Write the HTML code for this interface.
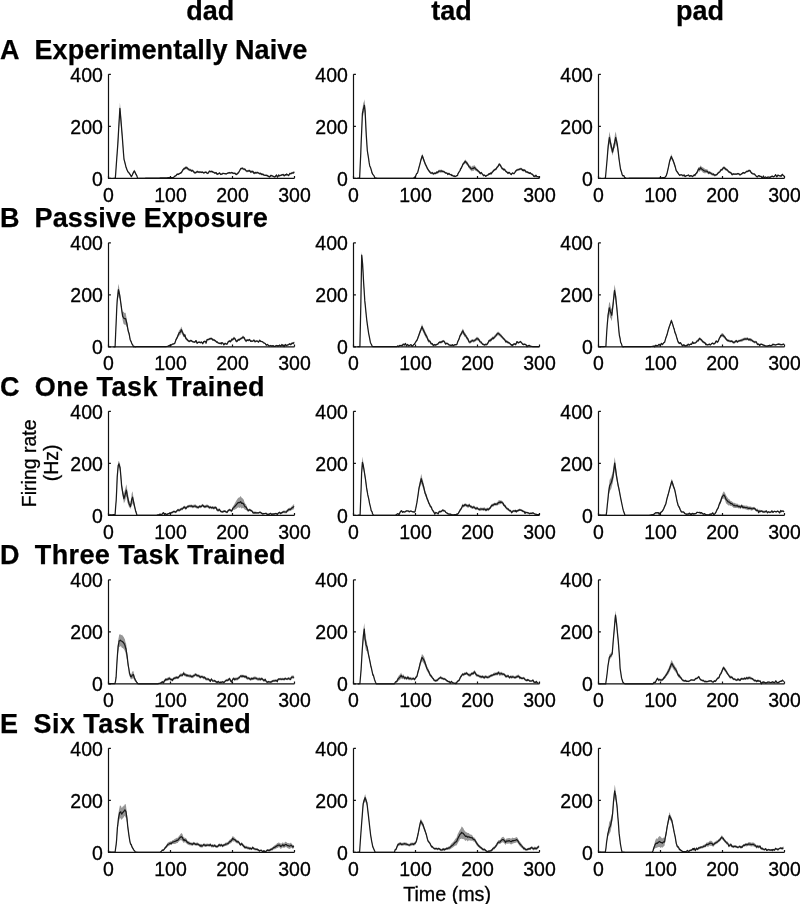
<!DOCTYPE html>
<html><head><meta charset="utf-8"><style>
html,body{margin:0;padding:0;background:#fff;width:800px;height:904px;overflow:hidden}
svg{display:block}
.hb{font-family:"Liberation Sans",Arial,sans-serif;font-weight:bold;font-size:27px;fill:#000;stroke:#000;stroke-width:0.25px}
.t{font-family:"Liberation Sans",Arial,sans-serif;font-size:19.5px;fill:#000;stroke:#000;stroke-width:0.3px}
</style></head><body>
<svg width="800" height="904" viewBox="0 0 800 904">
<rect width="800" height="904" fill="#fff"/>
<text x="210.2" y="19.5" class="hb" text-anchor="middle">dad</text>
<text x="451.4" y="19.5" class="hb" text-anchor="middle">tad</text>
<text x="700.0" y="19.5" class="hb" text-anchor="middle">pad</text>
<text x="0" y="58.55" class="hb">A</text>
<text x="34.55" y="58.55" class="hb" textLength="272.8" lengthAdjust="spacing">Experimentally Naive</text>
<text x="0" y="227.05" class="hb">B</text>
<text x="34.55" y="227.05" class="hb" textLength="233.3" lengthAdjust="spacing">Passive Exposure</text>
<text x="0" y="395.55" class="hb">C</text>
<text x="34.8" y="395.55" class="hb" textLength="229.8" lengthAdjust="spacing">One Task Trained</text>
<text x="0" y="564.05" class="hb">D</text>
<text x="34.8" y="564.05" class="hb" textLength="250.8" lengthAdjust="spacing">Three Task Trained</text>
<text x="0" y="732.55" class="hb">E</text>
<text x="33.6" y="732.55" class="hb" textLength="217.2" lengthAdjust="spacing">Six Task Trained</text>
<polygon fill="#969696" stroke="none" points="113.5,178.3 114.6,178.3 115.3,178.3 115.7,173.0 116.8,156.2 117.8,140.8 119.0,118.0 119.9,102.4 120.2,105.4 121.3,119.4 121.9,128.4 122.4,135.7 123.5,151.5 124.0,157.8 124.6,160.2 125.9,165.5 126.9,168.4 128.0,171.0 129.0,172.1 130.2,173.7 131.4,175.9 132.4,173.8 133.5,171.1 134.3,169.6 134.7,170.2 135.8,173.2 136.9,175.6 137.6,178.3 138.0,178.3 139.1,178.3 140.2,178.3 141.4,178.3 142.5,178.3 143.2,178.3 143.6,178.3 144.7,178.3 145.8,178.2 146.9,178.2 148.1,178.2 149.2,178.2 150.3,178.1 151.4,178.1 152.5,178.1 153.6,178.1 154.8,178.0 155.9,178.0 157.0,178.0 158.1,178.0 159.2,178.0 160.3,177.9 161.4,177.9 162.6,177.9 163.7,177.9 164.8,177.8 165.9,177.8 167.0,177.8 168.1,177.6 169.3,177.6 170.4,177.3 171.5,177.3 172.6,177.4 173.7,177.0 174.0,176.5 174.8,175.7 176.0,175.1 177.1,173.5 178.2,173.6 179.2,172.9 180.4,172.3 181.5,171.5 182.7,169.0 183.8,167.5 184.9,166.9 185.9,166.1 187.1,166.4 188.2,167.7 189.3,168.4 190.5,168.8 190.7,168.7 191.6,170.0 192.7,169.3 193.8,170.8 194.9,171.7 196.0,171.4 196.7,170.8 197.2,170.4 198.3,171.1 199.4,171.0 200.5,171.2 201.6,171.3 202.7,171.3 203.7,172.0 205.0,171.5 206.1,171.3 207.2,172.6 208.3,172.0 209.4,170.4 210.6,171.0 211.7,170.6 212.5,170.8 212.8,171.4 213.9,171.6 215.0,172.2 216.1,171.7 217.2,173.5 217.7,172.9 218.4,173.1 219.5,172.0 220.6,173.5 221.7,173.5 222.8,172.5 223.9,172.8 225.1,172.9 226.2,173.2 226.5,172.9 227.3,172.7 228.4,172.2 229.5,171.8 230.6,172.3 231.8,171.7 232.9,172.3 234.0,172.5 235.1,172.3 236.2,173.8 237.0,173.3 237.3,172.8 238.5,171.7 239.6,170.0 240.7,167.6 241.8,167.5 242.2,167.0 242.9,167.5 244.0,167.9 245.1,168.2 246.3,169.9 247.5,170.0 248.5,169.7 249.6,169.5 250.7,170.7 251.8,170.3 253.0,170.3 254.1,172.0 255.2,171.4 256.2,171.7 257.4,171.6 258.5,172.1 259.7,172.7 260.8,172.5 261.5,173.4 261.9,173.6 263.0,173.4 264.1,174.5 265.2,174.4 266.4,174.4 267.5,174.8 268.5,175.6 269.7,176.0 270.8,174.5 271.9,174.8 273.0,175.4 274.2,175.9 275.3,175.7 276.4,174.2 277.5,176.3 278.6,174.2 279.0,175.0 279.7,174.6 280.9,174.5 282.0,173.9 283.1,173.7 284.2,175.1 285.3,173.9 286.0,174.3 286.4,173.3 287.6,173.9 288.7,174.5 289.8,172.6 290.9,172.8 292.0,171.8 293.1,172.1 294.3,170.8 294.3,173.4 293.1,174.0 292.0,173.9 290.9,174.6 289.8,174.4 288.7,176.5 287.6,175.8 286.4,175.0 286.0,176.0 285.3,175.3 284.2,176.5 283.1,175.4 282.0,175.8 280.9,176.3 279.7,176.5 279.0,176.7 278.6,175.7 277.5,178.1 276.4,175.8 275.3,177.5 274.2,177.7 273.0,176.9 271.9,176.6 270.8,176.4 269.7,177.8 268.5,177.2 267.5,176.5 266.4,176.2 265.2,176.1 264.1,176.0 263.0,174.9 261.9,175.5 261.5,175.1 260.8,174.4 259.7,174.7 258.5,173.9 257.4,173.4 256.2,174.0 255.2,173.7 254.1,174.5 253.0,172.9 251.8,173.0 250.7,173.2 249.6,172.0 248.5,172.0 247.5,172.3 246.3,172.2 245.1,170.4 244.0,170.5 242.9,169.8 242.2,169.3 241.8,169.5 240.7,169.7 239.6,171.7 238.5,173.7 237.3,174.3 237.0,174.9 236.2,175.2 235.1,174.2 234.0,174.3 232.9,173.9 231.8,173.4 230.6,173.8 229.5,173.6 228.4,173.6 227.3,174.1 226.5,174.6 226.2,174.6 225.1,174.4 223.9,174.3 222.8,174.2 221.7,174.9 220.6,175.3 219.5,173.8 218.4,174.5 217.7,174.6 217.2,175.2 216.1,173.4 215.0,174.1 213.9,173.3 212.8,172.8 212.5,172.5 211.7,172.2 210.6,172.5 209.4,171.9 208.3,173.9 207.2,174.2 206.1,172.8 205.0,173.3 203.7,173.7 202.7,173.1 201.6,173.3 200.5,173.1 199.4,173.2 198.3,173.0 197.2,172.6 196.7,173.2 196.0,173.4 194.9,173.9 193.8,173.3 192.7,171.7 191.6,172.0 190.7,171.1 190.5,171.4 189.3,171.1 188.2,170.4 187.1,169.4 185.9,169.1 184.9,169.8 183.8,170.2 182.7,171.3 181.5,173.4 180.4,174.0 179.2,174.6 178.2,175.3 177.1,175.0 176.0,176.2 174.8,176.7 174.0,177.3 173.7,177.9 172.6,178.0 171.5,177.7 170.4,177.6 169.3,177.8 168.1,177.7 167.0,177.8 165.9,177.8 164.8,177.8 163.7,177.9 162.6,177.9 161.4,177.9 160.3,177.9 159.2,178.0 158.1,178.0 157.0,178.0 155.9,178.0 154.8,178.0 153.6,178.1 152.5,178.1 151.4,178.1 150.3,178.1 149.2,178.2 148.1,178.2 146.9,178.2 145.8,178.2 144.7,178.3 143.6,178.3 143.2,178.3 142.5,178.3 141.4,178.3 140.2,178.3 139.1,178.3 138.0,178.3 137.6,178.3 136.9,176.2 135.8,174.7 134.7,173.0 134.3,172.5 133.5,173.5 132.4,175.6 131.4,177.3 130.2,175.4 129.0,173.7 128.0,172.8 126.9,170.6 125.9,167.9 124.6,162.7 124.0,160.7 123.5,154.9 122.4,141.1 121.9,135.6 121.3,129.9 120.2,117.4 119.9,114.4 119.0,128.4 117.8,148.0 116.8,159.4 115.7,173.8 115.3,178.3 114.6,178.3 113.5,178.3"/>
<polyline fill="none" stroke="#1a1a1a" stroke-width="1.25" stroke-linejoin="round" points="113.5,178.3 114.6,178.3 115.3,178.3 115.7,173.4 116.8,157.8 117.8,144.4 119.0,123.2 119.9,108.4 120.2,111.4 121.3,124.6 121.9,132.0 122.4,138.4 123.5,153.2 124.0,159.3 124.6,161.4 125.9,166.7 126.9,169.5 128.0,171.9 129.0,172.9 130.2,174.6 131.4,176.6 132.4,174.7 133.5,172.3 134.3,171.0 134.7,171.6 135.8,173.9 136.9,175.9 137.6,178.3 138.0,178.3 139.1,178.3 140.2,178.3 141.4,178.3 142.5,178.3 143.2,178.3 143.6,178.3 144.7,178.3 145.8,178.2 146.9,178.2 148.1,178.2 149.2,178.2 150.3,178.1 151.4,178.1 152.5,178.1 153.6,178.1 154.8,178.0 155.9,178.0 157.0,178.0 158.1,178.0 159.2,178.0 160.3,177.9 161.4,177.9 162.6,177.9 163.7,177.9 164.8,177.8 165.9,177.8 167.0,177.8 168.1,177.6 169.3,177.7 170.4,177.4 171.5,177.5 172.6,177.7 173.7,177.5 174.0,176.9 174.8,176.2 176.0,175.7 177.1,174.2 178.2,174.4 179.2,173.8 180.4,173.1 181.5,172.4 182.7,170.2 183.8,168.8 184.9,168.4 185.9,167.6 187.1,167.9 188.2,169.0 189.3,169.8 190.5,170.1 190.7,169.9 191.6,171.0 192.7,170.5 193.8,172.0 194.9,172.8 196.0,172.4 196.7,172.0 197.2,171.5 198.3,172.1 199.4,172.1 200.5,172.2 201.6,172.3 202.7,172.2 203.7,172.9 205.0,172.4 206.1,172.1 207.2,173.4 208.3,173.0 209.4,171.2 210.6,171.7 211.7,171.4 212.5,171.6 212.8,172.1 213.9,172.4 215.0,173.2 216.1,172.6 217.2,174.4 217.7,173.8 218.4,173.8 219.5,172.9 220.6,174.4 221.7,174.2 222.8,173.4 223.9,173.5 225.1,173.7 226.2,173.9 226.5,173.8 227.3,173.4 228.4,172.9 229.5,172.7 230.6,173.0 231.8,172.5 232.9,173.1 234.0,173.4 235.1,173.3 236.2,174.5 237.0,174.1 237.3,173.6 238.5,172.7 239.6,170.8 240.7,168.7 241.8,168.5 242.2,168.2 242.9,168.7 244.0,169.2 245.1,169.3 246.3,171.0 247.5,171.1 248.5,170.9 249.6,170.7 250.7,172.0 251.8,171.6 253.0,171.6 254.1,173.3 255.2,172.6 256.2,172.9 257.4,172.5 258.5,173.0 259.7,173.7 260.8,173.4 261.5,174.3 261.9,174.6 263.0,174.2 264.1,175.2 265.2,175.3 266.4,175.3 267.5,175.7 268.5,176.4 269.7,176.9 270.8,175.5 271.9,175.7 273.0,176.2 274.2,176.8 275.3,176.6 276.4,175.0 277.5,177.2 278.6,175.0 279.0,175.9 279.7,175.5 280.9,175.4 282.0,174.8 283.1,174.5 284.2,175.8 285.3,174.6 286.0,175.2 286.4,174.1 287.6,174.8 288.7,175.5 289.8,173.5 290.9,173.7 292.0,172.9 293.1,173.0 294.3,172.1"/>
<path d="M108.5,74.3 V178.3 H294.5" fill="none" stroke="#111" stroke-width="1.2"/>
<path d="M108.5,178.3 h2.4 M108.5,126.3 h2.4 M108.5,74.3 h2.4 M108.5,178.3 v-2.4 M170.5,178.3 v-2.4 M232.5,178.3 v-2.4 M294.5,178.3 v-2.4" fill="none" stroke="#111" stroke-width="1.2"/>
<text x="102.9" y="185.6" class="t" text-anchor="end">0</text>
<text x="102.9" y="133.6" class="t" text-anchor="end">200</text>
<text x="102.9" y="81.6" class="t" text-anchor="end">400</text>
<text x="108.5" y="201.7" class="t" text-anchor="middle">0</text>
<text x="170.5" y="201.7" class="t" text-anchor="middle">100</text>
<text x="232.5" y="201.7" class="t" text-anchor="middle">200</text>
<text x="294.5" y="201.7" class="t" text-anchor="middle">300</text>
<polygon fill="#969696" stroke="none" points="357.4,178.2 358.5,178.2 359.6,178.2 360.8,151.8 361.1,142.8 361.9,123.4 362.4,109.7 363.0,105.1 363.2,103.6 364.1,100.9 364.4,99.3 365.1,104.9 366.1,129.4 366.3,133.5 367.3,149.0 368.6,157.4 369.2,162.1 369.7,164.9 370.8,167.7 371.7,171.0 371.9,172.1 373.0,174.5 374.1,175.8 374.8,177.7 375.3,177.9 376.0,178.2 376.4,178.2 377.5,178.3 378.6,178.3 379.7,178.3 380.8,178.3 382.0,178.3 383.1,178.3 384.2,178.3 385.3,178.3 386.4,178.3 387.5,178.3 388.7,178.3 389.8,178.3 390.6,178.3 390.9,178.3 392.0,178.3 393.1,178.3 394.2,178.3 395.4,178.3 396.5,178.3 397.6,178.3 398.7,178.3 399.8,178.3 400.9,178.3 402.0,178.3 403.2,178.3 404.3,178.3 405.4,178.3 406.5,178.3 407.6,178.3 408.7,178.3 409.9,178.3 411.0,178.3 412.1,178.3 413.4,178.3 414.3,177.4 415.0,176.7 415.4,175.9 416.6,173.1 417.4,172.2 417.7,171.5 418.8,166.8 419.9,162.7 421.0,158.1 422.3,153.4 423.2,156.4 424.4,159.8 424.7,160.6 425.5,162.9 426.6,165.0 427.2,166.7 427.7,167.6 428.8,169.5 429.9,170.7 430.4,171.4 431.1,172.2 432.2,171.4 433.3,172.7 433.7,172.4 434.4,172.1 435.5,172.1 436.1,171.9 436.6,171.0 437.8,170.9 438.6,170.0 438.9,169.7 440.0,169.8 441.1,169.7 441.8,169.5 442.2,169.9 443.3,170.3 444.3,170.8 445.6,171.9 446.7,172.2 447.5,172.7 447.8,173.7 448.9,172.5 450.0,173.9 451.1,173.7 451.6,174.8 452.3,174.7 453.4,175.7 454.5,175.4 454.8,176.1 455.6,175.7 456.7,175.0 457.6,174.8 457.8,173.4 459.0,171.2 460.1,169.5 460.5,167.8 461.2,167.1 462.3,164.4 462.9,162.7 463.4,162.3 464.5,160.7 465.3,159.3 465.7,160.4 466.8,161.0 467.9,162.7 468.6,164.2 469.0,164.8 470.1,165.3 471.2,166.7 471.9,166.5 472.4,165.8 473.5,165.7 474.3,164.9 474.6,165.4 475.7,166.8 476.8,168.3 477.9,169.4 479.1,170.4 480.0,171.9 480.2,172.3 481.3,171.6 482.4,173.4 483.3,174.4 483.5,174.7 484.6,174.4 485.7,175.5 486.5,175.2 486.9,174.6 488.0,174.2 489.1,173.0 489.8,173.4 490.2,172.3 491.3,172.6 492.4,170.8 493.0,170.3 493.6,169.6 494.7,168.6 495.8,167.9 496.2,167.8 496.9,166.2 498.0,165.3 499.2,162.7 500.3,163.8 501.4,165.6 501.9,166.7 502.5,167.2 503.6,168.2 504.7,168.4 505.2,169.5 505.8,169.9 506.9,171.1 508.1,172.5 508.4,171.8 509.2,171.7 510.3,173.0 511.4,173.6 511.7,173.1 512.5,172.2 513.6,172.8 514.1,172.7 514.8,171.6 515.9,169.7 517.0,168.9 517.4,168.7 518.1,168.5 519.2,168.3 520.3,167.7 520.7,167.8 521.5,167.7 522.6,169.1 523.1,168.7 523.7,169.5 524.8,169.1 525.5,170.3 525.9,170.5 527.0,170.9 528.2,171.6 528.8,171.8 529.3,172.7 530.4,172.1 531.2,173.1 531.5,173.2 532.6,173.7 533.7,175.5 534.4,175.3 534.9,175.9 536.0,174.7 536.9,176.3 537.1,176.2 538.2,176.2 539.3,177.0 539.3,177.8 538.2,177.2 537.1,177.2 536.9,177.3 536.0,175.8 534.9,177.4 534.4,176.7 533.7,177.1 532.6,175.1 531.5,174.7 531.2,174.7 530.4,173.7 529.3,174.2 528.8,173.4 528.2,173.6 527.0,173.0 525.9,173.1 525.5,172.6 524.8,171.1 523.7,171.7 523.1,171.0 522.6,171.4 521.5,170.2 520.7,170.2 520.3,170.0 519.2,170.7 518.1,170.8 517.4,171.0 517.0,171.1 515.9,172.0 514.8,173.5 514.1,174.4 513.6,174.3 512.5,173.8 511.7,174.7 511.4,175.4 510.3,174.4 509.2,173.2 508.4,173.4 508.1,174.4 506.9,173.1 505.8,172.4 505.2,171.8 504.7,170.5 503.6,171.1 502.5,169.7 501.9,169.7 501.4,169.0 500.3,166.5 499.2,165.6 498.0,167.6 496.9,168.7 496.2,170.2 495.8,170.3 494.7,170.9 493.6,171.7 493.0,172.6 492.4,173.0 491.3,174.9 490.2,174.0 489.8,175.0 489.1,174.5 488.0,175.9 486.9,176.0 486.5,176.5 485.7,177.0 484.6,175.8 483.5,176.5 483.3,176.0 482.4,175.1 481.3,173.7 480.2,174.7 480.0,174.2 479.1,173.1 477.9,172.2 476.8,171.3 475.7,171.0 474.6,169.8 474.3,169.9 473.5,170.9 472.4,170.8 471.9,171.5 471.2,170.8 470.1,169.8 469.0,168.3 468.6,167.9 467.9,166.1 466.8,165.0 465.7,163.9 465.3,163.1 464.5,163.9 463.4,165.3 462.9,165.6 462.3,167.0 461.2,169.5 460.5,170.2 460.1,171.5 459.0,172.9 457.8,174.8 457.6,176.2 456.7,176.4 455.6,176.9 454.8,177.1 454.5,176.4 453.4,176.7 452.3,175.8 451.6,176.2 451.1,175.2 450.0,175.2 448.9,174.1 447.8,175.2 447.5,174.4 446.7,174.1 445.6,173.9 444.3,173.1 443.3,172.6 442.2,172.8 441.8,172.4 441.1,172.7 440.0,172.7 438.9,172.3 438.6,172.9 437.8,174.0 436.6,173.3 436.1,174.2 435.5,174.5 434.4,174.6 433.7,174.7 433.3,175.2 432.2,174.0 431.1,174.2 430.4,173.7 429.9,173.3 428.8,171.9 427.7,170.3 427.2,169.7 426.6,168.1 425.5,166.1 424.7,164.4 424.4,163.6 423.2,160.2 422.3,158.0 421.0,161.3 419.9,165.6 418.8,169.5 417.7,173.3 417.4,173.9 416.6,174.3 415.4,176.9 415.0,177.5 414.3,177.8 413.4,178.3 412.1,178.3 411.0,178.3 409.9,178.3 408.7,178.3 407.6,178.3 406.5,178.3 405.4,178.3 404.3,178.3 403.2,178.3 402.0,178.3 400.9,178.3 399.8,178.3 398.7,178.3 397.6,178.3 396.5,178.3 395.4,178.3 394.2,178.3 393.1,178.3 392.0,178.3 390.9,178.3 390.6,178.3 389.8,178.3 388.7,178.3 387.5,178.3 386.4,178.3 385.3,178.3 384.2,178.3 383.1,178.3 382.0,178.3 380.8,178.3 379.7,178.3 378.6,178.3 377.5,178.3 376.4,178.2 376.0,178.2 375.3,177.9 374.8,177.7 374.1,176.0 373.0,175.0 371.9,173.0 371.7,172.1 370.8,168.9 369.7,166.5 369.2,163.7 368.6,159.7 367.3,152.0 366.3,137.8 366.1,134.4 365.1,116.9 364.4,111.3 364.1,111.7 363.2,115.6 363.0,116.3 362.4,117.0 361.9,128.1 361.1,145.8 360.8,154.0 359.6,178.2 358.5,178.2 357.4,178.2"/>
<polyline fill="none" stroke="#1a1a1a" stroke-width="1.25" stroke-linejoin="round" points="357.4,178.2 358.5,178.2 359.6,178.2 360.8,152.9 361.1,144.3 361.9,125.7 362.4,113.4 363.0,110.7 363.2,109.6 364.1,106.3 364.4,105.3 365.1,110.9 366.1,131.9 366.3,135.6 367.3,150.5 368.6,158.6 369.2,162.9 369.7,165.7 370.8,168.3 371.7,171.5 371.9,172.6 373.0,174.7 374.1,175.9 374.8,177.7 375.3,177.9 376.0,178.2 376.4,178.2 377.5,178.3 378.6,178.3 379.7,178.3 380.8,178.3 382.0,178.3 383.1,178.3 384.2,178.3 385.3,178.3 386.4,178.3 387.5,178.3 388.7,178.3 389.8,178.3 390.6,178.3 390.9,178.3 392.0,178.3 393.1,178.3 394.2,178.3 395.4,178.3 396.5,178.3 397.6,178.3 398.7,178.3 399.8,178.3 400.9,178.3 402.0,178.3 403.2,178.3 404.3,178.3 405.4,178.3 406.5,178.3 407.6,178.3 408.7,178.3 409.9,178.3 411.0,178.3 412.1,178.3 413.4,178.3 414.3,177.6 415.0,177.1 415.4,176.4 416.6,173.7 417.4,173.1 417.7,172.4 418.8,168.2 419.9,164.1 421.0,159.7 422.3,155.7 423.2,158.3 424.4,161.7 424.7,162.5 425.5,164.5 426.6,166.6 427.2,168.2 427.7,169.0 428.8,170.7 429.9,172.0 430.4,172.6 431.1,173.2 432.2,172.7 433.3,173.9 433.7,173.5 434.4,173.3 435.5,173.3 436.1,173.1 436.6,172.2 437.8,172.5 438.6,171.4 438.9,171.0 440.0,171.2 441.1,171.2 441.8,170.9 442.2,171.4 443.3,171.5 444.3,171.9 445.6,172.9 446.7,173.1 447.5,173.5 447.8,174.5 448.9,173.3 450.0,174.6 451.1,174.5 451.6,175.5 452.3,175.2 453.4,176.2 454.5,175.9 454.8,176.6 455.6,176.3 456.7,175.7 457.6,175.5 457.8,174.1 459.0,172.0 460.1,170.5 460.5,169.0 461.2,168.3 462.3,165.7 462.9,164.1 463.4,163.8 464.5,162.3 465.3,161.2 465.7,162.1 466.8,163.0 467.9,164.4 468.6,166.1 469.0,166.5 470.1,167.5 471.2,168.8 471.9,169.0 472.4,168.3 473.5,168.3 474.3,167.4 474.6,167.6 475.7,168.9 476.8,169.8 477.9,170.8 479.1,171.7 480.0,173.1 480.2,173.5 481.3,172.6 482.4,174.2 483.3,175.2 483.5,175.6 484.6,175.1 485.7,176.3 486.5,175.8 486.9,175.3 488.0,175.0 489.1,173.7 489.8,174.2 490.2,173.1 491.3,173.7 492.4,171.9 493.0,171.4 493.6,170.6 494.7,169.7 495.8,169.1 496.2,169.0 496.9,167.4 498.0,166.5 499.2,164.1 500.3,165.2 501.4,167.3 501.9,168.2 502.5,168.5 503.6,169.7 504.7,169.4 505.2,170.6 505.8,171.2 506.9,172.1 508.1,173.4 508.4,172.6 509.2,172.4 510.3,173.7 511.4,174.5 511.7,173.9 512.5,173.0 513.6,173.5 514.1,173.5 514.8,172.5 515.9,170.8 517.0,170.0 517.4,169.8 518.1,169.7 519.2,169.5 520.3,168.8 520.7,169.0 521.5,168.9 522.6,170.3 523.1,169.8 523.7,170.6 524.8,170.1 525.5,171.4 525.9,171.8 527.0,171.9 528.2,172.6 528.8,172.6 529.3,173.4 530.4,172.9 531.2,173.9 531.5,174.0 532.6,174.4 533.7,176.3 534.4,176.0 534.9,176.7 536.0,175.2 536.9,176.8 537.1,176.7 538.2,176.7 539.3,177.4"/>
<path d="M353.5,74.3 V178.3 H539.5" fill="none" stroke="#111" stroke-width="1.2"/>
<path d="M353.5,178.3 h2.4 M353.5,126.3 h2.4 M353.5,74.3 h2.4 M353.5,178.3 v-2.4 M415.5,178.3 v-2.4 M477.5,178.3 v-2.4 M539.5,178.3 v-2.4" fill="none" stroke="#111" stroke-width="1.2"/>
<text x="347.9" y="185.6" class="t" text-anchor="end">0</text>
<text x="347.9" y="133.6" class="t" text-anchor="end">200</text>
<text x="347.9" y="81.6" class="t" text-anchor="end">400</text>
<text x="353.5" y="201.7" class="t" text-anchor="middle">0</text>
<text x="415.5" y="201.7" class="t" text-anchor="middle">100</text>
<text x="477.5" y="201.7" class="t" text-anchor="middle">200</text>
<text x="539.5" y="201.7" class="t" text-anchor="middle">300</text>
<polygon fill="#969696" stroke="none" points="603.8,178.3 604.9,178.3 605.4,178.3 606.0,171.3 606.9,160.3 607.1,157.7 608.2,142.2 609.4,131.5 610.5,137.1 611.0,141.5 611.6,143.7 612.5,148.6 613.8,142.9 614.1,141.5 614.9,134.7 615.7,131.5 616.0,132.9 617.3,140.7 618.3,149.6 618.9,155.3 619.4,159.6 620.5,167.5 621.6,171.5 622.1,173.7 622.7,174.8 623.9,175.0 624.5,176.8 625.0,177.3 626.1,178.3 627.2,178.3 628.3,178.3 629.4,178.2 630.6,178.2 631.7,178.2 632.8,178.2 633.9,178.2 635.0,178.2 636.1,178.2 637.2,178.2 638.4,178.1 639.5,178.1 640.6,178.1 641.7,178.1 642.8,178.1 643.8,178.1 645.1,178.1 646.2,178.1 647.3,178.1 648.4,178.0 649.5,178.0 650.6,178.0 651.8,178.0 652.9,178.0 654.0,178.0 655.1,178.0 656.2,178.0 657.3,178.0 658.5,178.0 659.6,177.9 660.0,177.9 660.7,177.8 661.8,177.6 662.9,177.4 664.0,177.2 664.9,177.0 665.1,176.7 666.3,174.8 667.3,171.1 668.5,165.2 669.7,159.0 670.7,155.9 671.4,154.0 671.8,155.7 673.0,158.5 673.8,160.6 674.1,161.7 675.2,165.3 676.2,169.5 677.4,171.0 678.7,173.4 679.7,174.4 680.8,174.2 681.9,174.3 683.0,175.1 684.1,174.3 684.4,174.8 685.2,175.8 686.4,175.1 687.5,174.7 688.6,174.4 689.3,175.5 689.7,175.7 690.8,175.0 691.9,175.3 692.5,176.0 693.0,175.4 694.2,174.0 694.9,174.7 695.3,173.6 696.4,172.0 697.5,169.8 698.2,168.0 698.6,166.9 699.7,167.0 700.6,165.2 700.9,166.1 702.0,167.1 703.1,167.4 703.9,168.1 704.2,168.3 705.3,168.9 706.4,169.3 707.6,169.6 708.7,171.6 709.8,170.9 710.9,172.0 712.0,172.5 713.1,173.1 713.6,173.0 714.3,174.0 715.4,174.3 716.5,173.6 716.9,173.9 717.6,172.7 718.7,171.4 719.8,170.5 720.1,170.3 721.0,168.6 722.1,168.7 723.2,166.4 724.2,166.2 725.4,167.3 726.5,168.4 727.6,169.0 728.3,170.3 728.8,170.8 729.9,171.3 731.0,171.9 732.1,173.8 733.1,173.1 734.3,173.4 735.5,173.2 736.6,173.5 737.7,172.7 738.0,172.7 738.8,173.0 739.9,174.1 741.0,173.5 742.2,172.5 743.3,171.7 744.5,172.2 745.5,171.4 746.6,170.5 747.7,170.4 748.9,169.4 749.0,169.5 750.0,169.4 751.1,171.4 752.2,172.6 753.4,173.1 754.4,173.2 755.5,174.7 756.7,176.0 757.5,176.1 757.8,175.7 758.9,175.0 760.0,175.9 761.1,175.7 762.2,177.8 763.4,175.5 764.0,176.9 764.5,177.0 765.6,176.4 766.7,177.2 767.8,176.6 768.9,176.7 770.1,176.9 770.5,176.6 771.2,176.0 772.3,175.5 773.4,176.0 774.5,175.6 775.4,174.4 775.6,174.0 776.8,175.8 777.9,174.4 779.0,174.9 780.2,175.0 781.2,175.3 782.3,173.6 783.4,174.9 784.3,175.0 784.3,176.7 783.4,176.4 782.3,175.2 781.2,177.1 780.2,176.7 779.0,176.3 777.9,176.1 776.8,177.7 775.6,175.4 775.4,176.0 774.5,177.1 773.4,177.5 772.3,176.9 771.2,177.2 770.5,177.6 770.1,178.0 768.9,177.6 767.8,177.6 766.7,178.2 765.6,177.6 764.5,178.0 764.0,178.0 763.4,176.5 762.2,178.3 761.1,177.1 760.0,177.0 758.9,176.3 757.8,177.0 757.5,177.5 756.7,177.3 755.5,176.0 754.4,174.7 753.4,174.7 752.2,174.5 751.1,173.6 750.0,171.8 749.0,171.8 748.9,171.5 747.7,172.4 746.6,172.4 745.5,173.3 744.5,173.9 743.3,173.5 742.2,174.4 741.0,175.1 739.9,175.7 738.8,174.7 738.0,174.4 737.7,174.5 736.6,175.0 735.5,175.0 734.3,175.0 733.1,174.7 732.1,175.7 731.0,173.8 729.9,173.4 728.8,173.0 728.3,172.6 727.6,171.4 726.5,170.8 725.4,170.4 724.2,169.2 723.2,169.3 722.1,171.0 721.0,170.8 720.1,172.6 719.8,172.9 718.7,173.6 717.6,174.4 716.9,175.5 716.5,175.5 715.4,176.2 714.3,176.5 713.6,175.4 713.1,175.7 712.0,175.4 710.9,174.8 709.8,173.9 708.7,174.6 707.6,173.5 706.4,173.0 705.3,173.3 704.2,173.3 703.9,173.1 703.1,172.8 702.0,171.5 700.9,170.5 700.6,170.2 699.7,172.1 698.6,170.7 698.2,171.7 697.5,173.4 696.4,174.3 695.3,175.3 694.9,176.3 694.2,175.6 693.0,176.9 692.5,177.3 691.9,176.7 690.8,176.3 689.7,177.0 689.3,176.8 688.6,175.6 687.5,176.2 686.4,176.3 685.2,177.2 684.4,176.2 684.1,175.5 683.0,176.7 681.9,175.6 680.8,175.5 679.7,176.2 678.7,175.0 677.4,173.1 676.2,171.8 675.2,168.2 674.1,164.9 673.8,164.4 673.0,162.1 671.8,159.8 671.4,159.0 670.7,160.6 669.7,162.7 668.5,168.5 667.3,173.4 666.3,176.4 665.1,177.5 664.9,177.8 664.0,177.9 662.9,177.9 661.8,177.9 660.7,177.9 660.0,177.9 659.6,177.9 658.5,178.0 657.3,178.0 656.2,178.0 655.1,178.0 654.0,178.0 652.9,178.0 651.8,178.0 650.6,178.0 649.5,178.0 648.4,178.0 647.3,178.1 646.2,178.1 645.1,178.1 643.8,178.1 642.8,178.1 641.7,178.1 640.6,178.1 639.5,178.1 638.4,178.1 637.2,178.2 636.1,178.2 635.0,178.2 633.9,178.2 632.8,178.2 631.7,178.2 630.6,178.2 629.4,178.2 628.3,178.3 627.2,178.3 626.1,178.3 625.0,178.0 624.5,177.9 623.9,176.3 622.7,176.4 622.1,175.4 621.6,173.4 620.5,170.4 619.4,163.5 618.9,160.3 618.3,155.2 617.3,147.9 616.0,144.7 615.7,143.5 614.9,147.9 614.1,148.7 613.8,150.3 612.5,155.8 611.6,151.7 611.0,148.7 610.5,148.4 609.4,143.5 608.2,149.5 607.1,161.3 606.9,163.3 606.0,172.2 605.4,178.3 604.9,178.3 603.8,178.3"/>
<polyline fill="none" stroke="#1a1a1a" stroke-width="1.25" stroke-linejoin="round" points="603.8,178.3 604.9,178.3 605.4,178.3 606.0,171.8 606.9,161.8 607.1,159.5 608.2,145.9 609.4,137.5 610.5,142.8 611.0,145.1 611.6,147.7 612.5,152.2 613.8,146.6 614.1,145.1 614.9,141.3 615.7,137.5 616.0,138.8 617.3,144.3 618.3,152.4 618.9,157.8 619.4,161.5 620.5,169.0 621.6,172.4 622.1,174.5 622.7,175.6 623.9,175.7 624.5,177.3 625.0,177.6 626.1,178.3 627.2,178.3 628.3,178.3 629.4,178.2 630.6,178.2 631.7,178.2 632.8,178.2 633.9,178.2 635.0,178.2 636.1,178.2 637.2,178.2 638.4,178.1 639.5,178.1 640.6,178.1 641.7,178.1 642.8,178.1 643.8,178.1 645.1,178.1 646.2,178.1 647.3,178.1 648.4,178.0 649.5,178.0 650.6,178.0 651.8,178.0 652.9,178.0 654.0,178.0 655.1,178.0 656.2,178.0 657.3,178.0 658.5,178.0 659.6,177.9 660.0,177.9 660.7,177.9 661.8,177.8 662.9,177.6 664.0,177.5 664.9,177.4 665.1,177.1 666.3,175.6 667.3,172.2 668.5,166.8 669.7,160.9 670.7,158.3 671.4,156.5 671.8,157.7 673.0,160.3 673.8,162.5 674.1,163.3 675.2,166.7 676.2,170.6 677.4,172.1 678.7,174.2 679.7,175.3 680.8,174.8 681.9,174.9 683.0,175.9 684.1,174.9 684.4,175.5 685.2,176.5 686.4,175.7 687.5,175.5 688.6,175.0 689.3,176.1 689.7,176.3 690.8,175.6 691.9,176.0 692.5,176.6 693.0,176.1 694.2,174.8 694.9,175.5 695.3,174.5 696.4,173.2 697.5,171.6 698.2,169.8 698.6,168.8 699.7,169.6 700.6,167.7 700.9,168.3 702.0,169.3 703.1,170.1 703.9,170.6 704.2,170.8 705.3,171.1 706.4,171.2 707.6,171.6 708.7,173.1 709.8,172.4 710.9,173.4 712.0,174.0 713.1,174.4 713.6,174.2 714.3,175.2 715.4,175.2 716.5,174.6 716.9,174.7 717.6,173.5 718.7,172.5 719.8,171.7 720.1,171.4 721.0,169.7 722.1,169.8 723.2,167.9 724.2,167.7 725.4,168.9 726.5,169.6 727.6,170.2 728.3,171.4 728.8,171.9 729.9,172.3 731.0,172.9 732.1,174.7 733.1,173.9 734.3,174.2 735.5,174.1 736.6,174.2 737.7,173.6 738.0,173.5 738.8,173.8 739.9,174.9 741.0,174.3 742.2,173.4 743.3,172.6 744.5,173.1 745.5,172.4 746.6,171.4 747.7,171.4 748.9,170.4 749.0,170.6 750.0,170.6 751.1,172.5 752.2,173.5 753.4,173.9 754.4,174.0 755.5,175.4 756.7,176.7 757.5,176.8 757.8,176.3 758.9,175.6 760.0,176.4 761.1,176.4 762.2,178.3 763.4,176.0 764.0,177.4 764.5,177.5 765.6,177.0 766.7,177.7 767.8,177.1 768.9,177.1 770.1,177.4 770.5,177.1 771.2,176.6 772.3,176.2 773.4,176.8 774.5,176.3 775.4,175.2 775.6,174.7 776.8,176.8 777.9,175.2 779.0,175.6 780.2,175.8 781.2,176.2 782.3,174.4 783.4,175.7 784.3,175.8"/>
<path d="M598.5,74.3 V178.3 H784.5" fill="none" stroke="#111" stroke-width="1.2"/>
<path d="M598.5,178.3 h2.4 M598.5,126.3 h2.4 M598.5,74.3 h2.4 M598.5,178.3 v-2.4 M660.5,178.3 v-2.4 M722.5,178.3 v-2.4 M784.5,178.3 v-2.4" fill="none" stroke="#111" stroke-width="1.2"/>
<text x="592.9" y="185.6" class="t" text-anchor="end">0</text>
<text x="592.9" y="133.6" class="t" text-anchor="end">200</text>
<text x="592.9" y="81.6" class="t" text-anchor="end">400</text>
<text x="598.5" y="201.7" class="t" text-anchor="middle">0</text>
<text x="660.5" y="201.7" class="t" text-anchor="middle">100</text>
<text x="722.5" y="201.7" class="t" text-anchor="middle">200</text>
<text x="784.5" y="201.7" class="t" text-anchor="middle">300</text>
<polygon fill="#969696" stroke="none" points="113.4,346.8 114.5,346.8 115.1,346.8 115.6,334.1 116.4,315.5 116.7,307.5 117.2,297.7 117.9,288.6 118.4,283.7 119.0,286.4 119.7,291.6 120.1,294.7 121.0,301.9 121.2,303.2 122.3,310.9 122.6,312.6 123.4,311.5 124.3,312.7 124.6,313.1 125.6,312.7 126.9,320.1 127.9,327.1 128.5,330.3 129.0,331.5 130.2,338.5 131.3,341.2 131.9,343.2 132.4,343.9 133.5,346.7 134.0,346.4 134.6,346.6 135.2,346.8 135.7,346.8 136.2,346.7 136.8,346.7 137.9,346.7 139.1,346.7 140.2,346.7 141.3,346.7 142.4,346.7 143.5,346.7 144.6,346.7 145.8,346.7 146.9,346.7 148.0,346.7 149.1,346.7 150.2,346.7 151.3,346.7 152.5,346.7 153.6,346.7 154.7,346.7 155.8,346.7 156.9,346.7 158.0,346.7 159.2,346.7 160.3,346.7 161.4,346.7 162.5,346.7 163.6,346.7 164.7,346.7 165.0,346.7 165.8,346.5 167.0,346.2 168.1,345.9 169.2,345.1 169.8,345.4 170.3,344.3 171.4,344.5 172.5,343.6 173.7,343.2 174.6,342.7 174.8,342.5 175.9,338.7 177.0,336.5 178.2,333.1 179.2,330.3 180.4,329.1 181.3,326.6 182.6,329.9 183.7,333.1 184.2,334.3 184.8,333.2 185.9,336.8 187.1,338.3 187.8,339.1 188.2,339.5 189.3,340.5 190.4,339.6 191.5,339.8 192.6,340.9 193.8,341.1 194.9,341.0 196.0,339.8 197.1,342.5 197.4,341.9 198.2,341.5 199.3,341.4 200.4,341.9 201.6,341.3 202.2,342.1 202.7,342.9 203.8,340.8 204.9,340.5 205.8,340.9 206.0,342.5 207.1,338.7 208.3,338.5 209.4,338.0 209.9,337.4 210.5,337.5 211.6,337.5 212.7,338.6 213.0,338.6 213.8,338.9 215.0,339.6 216.1,340.4 216.6,341.4 217.2,341.1 218.3,342.3 219.4,342.6 220.5,342.4 221.4,343.1 221.7,341.9 222.8,342.3 223.9,344.0 225.0,342.5 226.2,343.3 227.2,343.1 228.3,340.7 229.5,340.1 229.8,339.8 230.6,340.5 231.7,338.0 232.8,338.3 233.9,336.6 235.0,337.4 236.2,340.0 237.0,339.8 237.3,339.6 238.4,338.5 239.4,338.6 240.6,337.6 241.7,337.0 242.5,335.9 242.9,335.6 244.0,336.2 245.1,338.5 246.2,339.8 246.6,339.1 247.3,339.1 248.4,339.2 249.6,338.6 250.7,340.5 251.4,340.2 251.8,340.6 252.9,340.3 254.0,339.2 255.1,341.1 256.2,340.2 257.4,340.3 258.5,341.2 259.6,339.4 259.8,339.7 260.7,340.5 261.8,340.7 262.9,341.2 263.4,341.9 264.1,342.3 265.2,342.7 266.3,344.5 267.4,343.8 268.2,344.4 268.5,344.9 269.6,345.3 270.8,344.9 271.9,345.7 273.0,345.0 274.1,345.9 275.2,345.7 276.3,345.0 277.4,345.6 277.8,345.0 278.6,345.3 279.7,344.5 280.8,345.6 281.9,343.9 283.0,345.1 283.8,344.4 284.1,345.9 285.3,343.9 286.4,345.0 287.5,344.3 288.6,343.9 289.7,343.3 290.8,343.8 292.0,342.2 293.1,342.5 294.2,341.3 294.2,343.5 293.1,344.5 292.0,344.0 290.8,345.5 289.7,344.6 288.6,345.3 287.5,345.8 286.4,346.2 285.3,345.2 284.1,346.8 283.8,345.8 283.0,346.5 281.9,345.0 280.8,346.8 279.7,345.7 278.6,346.4 277.8,346.1 277.4,346.5 276.3,345.9 275.2,346.8 274.1,346.8 273.0,346.1 271.9,346.8 270.8,346.1 269.6,346.6 268.5,346.3 268.2,345.8 267.4,345.1 266.3,345.8 265.2,344.3 264.1,343.7 263.4,343.5 262.9,342.8 261.8,342.2 260.7,342.3 259.8,341.3 259.6,341.0 258.5,343.0 257.4,342.0 256.2,341.8 255.1,342.6 254.0,340.9 252.9,341.7 251.8,342.2 251.4,341.8 250.7,342.0 249.6,340.7 248.4,341.4 247.3,341.0 246.6,341.4 246.2,342.4 245.1,341.2 244.0,338.9 242.9,338.8 242.5,338.9 241.7,339.4 240.6,339.8 239.4,341.0 238.4,340.8 237.3,342.3 237.0,342.2 236.2,342.7 235.0,340.1 233.9,339.6 232.8,341.0 231.7,340.7 230.6,342.8 229.8,342.2 229.5,342.3 228.3,342.5 227.2,345.0 226.2,344.9 225.0,344.0 223.9,345.5 222.8,343.8 221.7,343.6 221.4,344.7 220.5,344.0 219.4,344.2 218.3,343.7 217.2,342.9 216.6,343.0 216.1,342.4 215.0,341.6 213.8,340.9 213.0,341.0 212.7,341.0 211.6,339.6 210.5,340.0 209.9,339.8 209.4,340.3 208.3,340.5 207.1,340.4 206.0,344.0 205.8,342.6 204.9,342.3 203.8,342.3 202.7,344.5 202.2,343.8 201.6,342.9 200.4,343.4 199.3,342.8 198.2,343.2 197.4,343.5 197.1,344.0 196.0,341.4 194.9,342.9 193.8,342.8 192.6,342.6 191.5,341.7 190.4,341.8 189.3,342.4 188.2,342.0 187.8,341.4 187.1,340.7 185.9,340.1 184.8,336.5 184.2,338.1 183.7,336.8 182.6,335.3 181.3,332.8 180.4,334.9 179.2,335.4 178.2,336.9 177.0,339.3 175.9,341.1 174.8,343.9 174.6,344.1 173.7,344.5 172.5,344.6 171.4,345.5 170.3,345.3 169.8,346.2 169.2,345.8 168.1,346.4 167.0,346.5 165.8,346.6 165.0,346.7 164.7,346.7 163.6,346.7 162.5,346.7 161.4,346.7 160.3,346.7 159.2,346.7 158.0,346.7 156.9,346.7 155.8,346.7 154.7,346.7 153.6,346.7 152.5,346.7 151.3,346.7 150.2,346.7 149.1,346.7 148.0,346.7 146.9,346.7 145.8,346.7 144.6,346.7 143.5,346.7 142.4,346.7 141.3,346.7 140.2,346.7 139.1,346.7 137.9,346.7 136.8,346.7 136.2,346.7 135.7,346.8 135.2,346.8 134.6,346.6 134.0,346.4 133.5,346.8 132.4,344.8 131.9,344.6 131.3,343.1 130.2,340.9 129.0,335.0 128.5,334.0 127.9,331.6 126.9,327.3 125.6,324.7 124.6,324.4 124.3,324.7 123.4,323.5 122.6,319.8 122.3,316.8 121.2,309.1 121.0,306.9 120.1,301.2 119.7,298.8 119.0,297.7 118.4,295.7 117.9,300.3 117.2,302.7 116.7,311.0 116.4,318.5 115.6,335.2 115.1,346.8 114.5,346.8 113.4,346.8"/>
<polyline fill="none" stroke="#1a1a1a" stroke-width="1.25" stroke-linejoin="round" points="113.4,346.8 114.5,346.8 115.1,346.8 115.6,334.7 116.4,317.0 116.7,309.3 117.2,300.2 117.9,294.4 118.4,289.7 119.0,292.0 119.7,295.2 120.1,297.9 121.0,304.4 121.2,306.2 122.3,313.9 122.6,316.2 123.4,317.5 124.3,318.7 124.6,318.7 125.6,318.7 126.9,323.7 127.9,329.3 128.5,332.1 129.0,333.2 130.2,339.7 131.3,342.1 131.9,343.9 132.4,344.3 133.5,346.8 134.0,346.4 134.6,346.6 135.2,346.8 135.7,346.8 136.2,346.7 136.8,346.7 137.9,346.7 139.1,346.7 140.2,346.7 141.3,346.7 142.4,346.7 143.5,346.7 144.6,346.7 145.8,346.7 146.9,346.7 148.0,346.7 149.1,346.7 150.2,346.7 151.3,346.7 152.5,346.7 153.6,346.7 154.7,346.7 155.8,346.7 156.9,346.7 158.0,346.7 159.2,346.7 160.3,346.7 161.4,346.7 162.5,346.7 163.6,346.7 164.7,346.7 165.0,346.7 165.8,346.6 167.0,346.4 168.1,346.1 169.2,345.5 169.8,345.8 170.3,344.8 171.4,345.0 172.5,344.1 173.7,343.9 174.6,343.4 174.8,343.2 175.9,339.9 177.0,337.9 178.2,335.0 179.2,332.8 180.4,332.0 181.3,329.7 182.6,332.6 183.7,334.9 184.2,336.2 184.8,334.8 185.9,338.5 187.1,339.5 187.8,340.3 188.2,340.8 189.3,341.4 190.4,340.7 191.5,340.7 192.6,341.7 193.8,342.0 194.9,342.0 196.0,340.6 197.1,343.3 197.4,342.7 198.2,342.4 199.3,342.1 200.4,342.6 201.6,342.1 202.2,342.9 202.7,343.7 203.8,341.6 204.9,341.4 205.8,341.7 206.0,343.2 207.1,339.5 208.3,339.5 209.4,339.1 209.9,338.6 210.5,338.7 211.6,338.5 212.7,339.8 213.0,339.8 213.8,339.9 215.0,340.6 216.1,341.4 216.6,342.2 217.2,342.0 218.3,343.0 219.4,343.4 220.5,343.2 221.4,343.9 221.7,342.7 222.8,343.0 223.9,344.8 225.0,343.3 226.2,344.1 227.2,344.0 228.3,341.6 229.5,341.2 229.8,341.0 230.6,341.7 231.7,339.4 232.8,339.6 233.9,338.1 235.0,338.8 236.2,341.3 237.0,341.0 237.3,341.0 238.4,339.6 239.4,339.8 240.6,338.7 241.7,338.2 242.5,337.4 242.9,337.2 244.0,337.6 245.1,339.8 246.2,341.1 246.6,340.3 247.3,340.1 248.4,340.3 249.6,339.6 250.7,341.3 251.4,341.0 251.8,341.4 252.9,341.0 254.0,340.1 255.1,341.8 256.2,341.0 257.4,341.1 258.5,342.1 259.6,340.2 259.8,340.5 260.7,341.4 261.8,341.5 262.9,342.0 263.4,342.7 264.1,343.0 265.2,343.5 266.3,345.2 267.4,344.4 268.2,345.1 268.5,345.6 269.6,346.0 270.8,345.5 271.9,346.2 273.0,345.6 274.1,346.4 275.2,346.3 276.3,345.5 277.4,346.0 277.8,345.6 278.6,345.9 279.7,345.1 280.8,346.2 281.9,344.5 283.0,345.8 283.8,345.1 284.1,346.6 285.3,344.5 286.4,345.6 287.5,345.0 288.6,344.6 289.7,343.9 290.8,344.6 292.0,343.1 293.1,343.5 294.2,342.4"/>
<path d="M108.5,242.8 V346.8 H294.5" fill="none" stroke="#111" stroke-width="1.2"/>
<path d="M108.5,346.8 h2.4 M108.5,294.8 h2.4 M108.5,242.8 h2.4 M108.5,346.8 v-2.4 M170.5,346.8 v-2.4 M232.5,346.8 v-2.4 M294.5,346.8 v-2.4" fill="none" stroke="#111" stroke-width="1.2"/>
<text x="102.9" y="354.1" class="t" text-anchor="end">0</text>
<text x="102.9" y="302.1" class="t" text-anchor="end">200</text>
<text x="102.9" y="250.1" class="t" text-anchor="end">400</text>
<text x="108.5" y="370.2" class="t" text-anchor="middle">0</text>
<text x="170.5" y="370.2" class="t" text-anchor="middle">100</text>
<text x="232.5" y="370.2" class="t" text-anchor="middle">200</text>
<text x="294.5" y="370.2" class="t" text-anchor="middle">300</text>
<polygon fill="#969696" stroke="none" points="357.4,346.7 358.5,346.6 359.6,346.5 359.9,346.5 360.9,299.4 361.7,251.5 362.6,260.2 363.0,267.9 363.6,279.9 364.1,287.9 364.8,299.4 365.2,303.0 366.3,314.4 366.7,318.3 367.4,323.9 368.6,332.3 369.7,338.0 370.4,341.9 370.8,342.9 371.9,345.5 372.3,346.5 373.0,346.6 373.5,346.7 374.1,346.7 375.3,346.7 376.4,346.7 377.5,346.7 378.6,346.7 379.7,346.7 380.8,346.7 382.0,346.7 383.1,346.7 384.2,346.7 385.3,346.7 386.4,346.7 387.5,346.7 388.7,346.7 389.8,346.7 390.9,346.7 392.0,346.7 393.1,346.7 394.2,346.7 395.4,346.7 396.5,346.7 396.8,346.7 397.6,345.9 398.0,345.4 398.7,346.3 399.8,345.0 400.9,345.1 401.6,344.9 402.0,345.4 403.2,343.7 404.3,344.5 405.4,342.9 405.7,343.6 406.5,345.6 407.6,343.9 408.8,345.4 409.9,344.8 411.0,344.1 412.1,345.8 413.2,344.5 413.6,343.9 414.3,343.4 415.4,341.4 416.6,339.4 417.2,338.3 417.7,336.6 418.8,333.4 419.9,330.1 421.0,327.5 422.0,324.1 423.2,327.2 424.4,329.3 425.6,332.5 426.6,334.0 427.7,337.1 428.8,339.5 429.2,339.5 429.9,340.1 431.1,342.4 432.2,342.7 432.8,343.8 433.3,344.6 434.4,343.8 435.5,344.3 436.4,343.8 436.6,343.7 437.8,343.2 438.9,341.4 440.0,341.0 441.1,341.1 442.2,340.2 443.3,339.9 443.6,339.8 444.5,340.7 445.6,342.9 446.7,342.4 447.2,342.6 447.8,343.0 448.9,344.0 450.0,344.3 451.1,344.8 452.0,344.4 452.3,344.0 453.4,345.0 454.5,344.2 455.6,343.9 456.8,343.9 457.8,340.6 459.0,338.0 459.9,334.7 460.1,334.3 461.2,332.1 462.3,329.4 462.8,328.4 463.4,329.4 464.5,332.5 465.7,333.6 466.4,335.5 466.8,335.7 467.9,337.2 469.0,340.4 470.0,340.7 471.2,339.8 472.4,339.1 473.6,339.5 474.6,339.0 475.7,338.1 476.7,336.7 477.9,337.1 479.1,338.5 479.6,339.5 480.2,340.2 481.3,341.1 482.4,343.1 483.2,343.8 483.5,343.5 484.6,344.1 485.7,343.4 486.8,343.8 488.0,341.8 489.1,339.2 490.2,339.2 490.4,338.3 491.3,338.4 492.4,336.6 493.6,336.8 494.0,335.9 494.7,335.1 495.8,334.2 496.9,332.5 498.1,331.5 499.1,332.2 500.3,333.4 501.4,334.5 502.4,335.9 503.6,337.2 504.7,338.4 505.8,340.5 506.9,340.0 507.2,341.0 508.1,341.2 509.2,342.0 510.3,342.9 511.4,344.4 512.0,343.8 512.5,344.8 513.6,343.4 514.8,342.9 515.6,343.8 515.9,343.3 517.0,340.8 518.1,342.1 519.2,341.3 519.9,341.4 520.3,340.7 521.5,341.8 522.6,343.4 523.7,343.9 524.0,343.5 524.8,343.6 525.9,344.0 527.0,346.2 528.2,344.8 528.8,345.3 529.3,344.9 530.4,345.9 531.5,346.2 532.4,346.5 532.6,346.5 533.7,346.6 534.9,346.6 536.0,346.6 537.1,346.7 538.2,346.7 539.3,346.7 539.3,346.7 538.2,346.7 537.1,346.7 536.0,346.6 534.9,346.6 533.7,346.6 532.6,346.5 532.4,346.5 531.5,346.5 530.4,346.4 529.3,345.9 528.8,346.3 528.2,345.9 527.0,346.8 525.9,345.1 524.8,345.0 524.0,344.8 523.7,345.3 522.6,344.9 521.5,343.3 520.3,342.3 519.9,343.0 519.2,343.2 518.1,343.7 517.0,342.3 515.9,345.1 515.6,345.4 514.8,344.7 513.6,345.1 512.5,346.6 512.0,345.4 511.4,346.0 510.3,344.9 509.2,343.9 508.1,343.7 507.2,343.4 506.9,342.3 505.8,343.0 504.7,340.9 503.6,340.1 502.4,338.9 501.4,337.8 500.3,336.9 499.1,335.7 498.1,335.2 496.9,335.9 495.8,337.6 494.7,338.6 494.0,338.9 493.6,340.0 492.4,339.7 491.3,341.3 490.4,341.3 490.2,342.5 489.1,341.8 488.0,344.0 486.8,345.4 485.7,345.2 484.6,345.9 483.5,345.0 483.2,345.4 482.4,344.9 481.3,343.5 480.2,343.4 479.6,342.5 479.1,341.4 477.9,340.4 476.7,340.5 475.7,341.2 474.6,342.1 473.6,342.5 472.4,341.9 471.2,342.7 470.0,343.7 469.0,343.3 467.9,340.8 466.8,339.6 466.4,339.3 465.7,337.1 464.5,337.0 463.4,334.6 462.8,333.4 462.3,334.0 461.2,335.7 460.1,337.1 459.9,337.7 459.0,340.3 457.8,342.4 456.8,345.3 455.6,345.4 454.5,345.4 453.4,346.4 452.3,345.4 452.0,345.8 451.1,346.3 450.0,345.8 448.9,345.7 447.8,344.5 447.2,344.2 446.7,344.2 445.6,345.0 444.5,343.0 443.6,342.2 443.3,342.1 442.2,342.9 441.1,343.4 440.0,343.4 438.9,343.6 437.8,344.9 436.6,345.3 436.4,345.4 435.5,345.8 434.4,345.6 433.3,346.4 432.8,345.4 432.2,344.7 431.1,344.9 429.9,342.5 429.2,342.5 428.8,343.0 427.7,341.2 426.6,338.3 425.6,337.5 424.4,334.8 423.2,332.6 422.0,329.1 421.0,331.4 419.9,334.3 418.8,337.4 417.7,340.1 417.2,341.3 416.6,341.7 415.4,343.6 414.3,345.0 413.6,345.3 413.2,345.7 412.1,346.8 411.0,345.0 409.9,345.6 408.8,346.2 407.6,344.8 406.5,346.5 405.7,344.6 405.4,344.0 404.3,345.5 403.2,344.6 402.0,346.4 401.6,345.7 400.9,345.9 399.8,345.7 398.7,346.8 398.0,346.2 397.6,346.4 396.8,346.7 396.5,346.7 395.4,346.7 394.2,346.7 393.1,346.7 392.0,346.7 390.9,346.7 389.8,346.7 388.7,346.7 387.5,346.7 386.4,346.7 385.3,346.7 384.2,346.7 383.1,346.7 382.0,346.7 380.8,346.7 379.7,346.7 378.6,346.7 377.5,346.7 376.4,346.7 375.3,346.7 374.1,346.7 373.5,346.7 373.0,346.6 372.3,346.5 371.9,345.7 370.8,343.7 370.4,342.9 369.7,339.4 368.6,333.9 367.4,325.9 366.7,320.7 366.3,317.2 365.2,306.2 364.8,302.4 364.1,291.7 363.6,284.8 363.0,273.6 362.6,267.4 361.7,258.7 360.9,302.4 359.9,346.5 359.6,346.5 358.5,346.6 357.4,346.7"/>
<polyline fill="none" stroke="#1a1a1a" stroke-width="1.25" stroke-linejoin="round" points="357.4,346.7 358.5,346.6 359.6,346.5 359.9,346.5 360.9,300.9 361.7,255.1 362.6,263.8 363.0,270.7 363.6,282.3 364.1,289.8 364.8,300.9 365.2,304.6 366.3,315.8 366.7,319.5 367.4,324.9 368.6,333.1 369.7,338.7 370.4,342.4 370.8,343.3 371.9,345.6 372.3,346.5 373.0,346.6 373.5,346.7 374.1,346.7 375.3,346.7 376.4,346.7 377.5,346.7 378.6,346.7 379.7,346.7 380.8,346.7 382.0,346.7 383.1,346.7 384.2,346.7 385.3,346.7 386.4,346.7 387.5,346.7 388.7,346.7 389.8,346.7 390.9,346.7 392.0,346.7 393.1,346.7 394.2,346.7 395.4,346.7 396.5,346.7 396.8,346.7 397.6,346.1 398.0,345.8 398.7,346.7 399.8,345.3 400.9,345.5 401.6,345.3 402.0,345.9 403.2,344.1 404.3,345.0 405.4,343.4 405.7,344.1 406.5,346.0 407.6,344.4 408.8,345.8 409.9,345.2 411.0,344.6 412.1,346.4 413.2,345.1 413.6,344.6 414.3,344.2 415.4,342.5 416.6,340.5 417.2,339.8 417.7,338.4 418.8,335.4 419.9,332.2 421.0,329.4 422.0,326.6 423.2,329.9 424.4,332.1 425.6,335.0 426.6,336.2 427.7,339.1 428.8,341.2 429.2,341.0 429.9,341.3 431.1,343.6 432.2,343.7 432.8,344.6 433.3,345.5 434.4,344.7 435.5,345.1 436.4,344.6 436.6,344.5 437.8,344.1 438.9,342.5 440.0,342.2 441.1,342.3 442.2,341.6 443.3,341.0 443.6,341.0 444.5,341.9 445.6,344.0 446.7,343.3 447.2,343.4 447.8,343.8 448.9,344.9 450.0,345.1 451.1,345.5 452.0,345.1 452.3,344.7 453.4,345.7 454.5,344.8 455.6,344.6 456.8,344.6 457.8,341.5 459.0,339.1 459.9,336.2 460.1,335.7 461.2,333.9 462.3,331.7 462.8,330.9 463.4,332.0 464.5,334.8 465.7,335.4 466.4,337.4 466.8,337.6 467.9,339.0 469.0,341.9 470.0,342.2 471.2,341.2 472.4,340.5 473.6,341.0 474.6,340.5 475.7,339.7 476.7,338.6 477.9,338.8 479.1,340.0 479.6,341.0 480.2,341.8 481.3,342.3 482.4,344.0 483.2,344.6 483.5,344.3 484.6,345.0 485.7,344.3 486.8,344.6 488.0,342.9 489.1,340.5 490.2,340.8 490.4,339.8 491.3,339.8 492.4,338.1 493.6,338.4 494.0,337.4 494.7,336.9 495.8,335.9 496.9,334.2 498.1,333.3 499.1,334.0 500.3,335.1 501.4,336.1 502.4,337.4 503.6,338.7 504.7,339.6 505.8,341.8 506.9,341.2 507.2,342.2 508.1,342.4 509.2,342.9 510.3,343.9 511.4,345.2 512.0,344.6 512.5,345.7 513.6,344.2 514.8,343.8 515.6,344.6 515.9,344.2 517.0,341.6 518.1,342.9 519.2,342.3 519.9,342.2 520.3,341.5 521.5,342.6 522.6,344.2 523.7,344.6 524.0,344.1 524.8,344.3 525.9,344.6 527.0,346.8 528.2,345.4 528.8,345.8 529.3,345.4 530.4,346.1 531.5,346.3 532.4,346.5 532.6,346.5 533.7,346.6 534.9,346.6 536.0,346.6 537.1,346.7 538.2,346.7 539.3,346.7"/>
<path d="M353.5,242.8 V346.8 H539.5" fill="none" stroke="#111" stroke-width="1.2"/>
<path d="M353.5,346.8 h2.4 M353.5,294.8 h2.4 M353.5,242.8 h2.4 M353.5,346.8 v-2.4 M415.5,346.8 v-2.4 M477.5,346.8 v-2.4 M539.5,346.8 v-2.4" fill="none" stroke="#111" stroke-width="1.2"/>
<text x="347.9" y="354.1" class="t" text-anchor="end">0</text>
<text x="347.9" y="302.1" class="t" text-anchor="end">200</text>
<text x="347.9" y="250.1" class="t" text-anchor="end">400</text>
<text x="353.5" y="370.2" class="t" text-anchor="middle">0</text>
<text x="415.5" y="370.2" class="t" text-anchor="middle">100</text>
<text x="477.5" y="370.2" class="t" text-anchor="middle">200</text>
<text x="539.5" y="370.2" class="t" text-anchor="middle">300</text>
<polygon fill="#969696" stroke="none" points="600.0,346.6 601.2,346.6 602.3,346.5 603.4,346.5 604.5,346.5 605.6,346.4 605.9,346.4 606.7,331.3 607.2,323.9 607.9,314.2 608.0,311.7 609.0,303.2 609.3,301.8 610.1,303.6 610.5,306.0 611.2,307.7 611.8,309.3 612.3,305.3 613.1,300.8 613.4,296.4 614.5,284.5 615.6,290.0 616.9,305.0 617.9,317.7 618.1,319.6 619.0,330.1 619.4,334.0 620.1,337.3 620.6,341.4 621.3,342.9 622.3,346.6 623.5,346.8 623.8,346.7 624.6,346.7 625.7,346.7 626.8,346.7 628.0,346.7 629.1,346.7 630.2,346.7 631.3,346.7 632.4,346.7 633.5,346.7 634.6,346.7 635.8,346.7 636.9,346.7 638.0,346.7 639.1,346.7 640.2,346.7 641.3,346.7 642.5,346.7 643.6,346.7 644.7,346.7 645.8,346.7 646.9,346.7 648.0,346.7 649.2,346.7 650.2,346.7 651.4,346.4 652.5,346.1 653.6,345.8 654.7,346.4 655.0,345.4 655.9,344.7 657.0,345.6 658.1,344.8 659.2,343.8 659.8,344.6 660.3,344.9 661.4,342.9 662.5,343.7 663.7,342.1 664.6,341.4 664.8,340.8 665.9,336.6 667.0,333.5 668.2,328.7 669.2,325.4 670.4,321.7 671.4,318.7 672.6,322.4 673.7,326.5 674.2,327.5 674.8,330.5 675.9,333.3 677.1,337.4 677.8,339.8 678.2,341.0 679.3,342.5 680.4,341.9 681.5,343.6 682.6,345.1 683.8,344.2 684.9,345.2 686.0,345.2 686.2,344.7 687.1,345.0 688.2,343.5 689.3,344.6 689.8,343.9 690.4,343.5 691.6,343.5 692.7,341.1 693.4,342.6 693.8,342.4 694.9,342.0 696.0,341.5 697.0,339.8 698.3,339.1 699.4,337.2 699.9,337.1 700.5,337.9 701.6,338.7 702.7,340.3 703.0,340.6 703.8,341.1 705.0,341.8 705.9,343.8 706.1,343.2 707.2,344.2 708.3,344.0 709.4,343.5 709.7,343.9 710.5,344.2 711.6,342.9 712.8,342.6 713.8,343.1 715.0,342.4 716.1,340.2 717.2,340.4 717.4,341.0 718.3,340.0 719.5,336.7 720.3,335.4 720.6,334.4 721.7,333.3 722.7,333.1 723.9,334.4 725.0,335.9 725.8,337.1 726.2,338.0 727.3,338.9 728.4,339.2 729.4,339.8 730.6,340.0 731.7,340.0 732.9,340.8 734.0,341.4 734.2,341.0 735.1,340.5 736.2,339.5 737.3,340.9 738.4,339.7 739.0,339.8 739.5,339.7 740.7,339.1 741.8,338.7 742.9,338.3 743.8,337.8 745.1,337.5 746.2,337.8 747.4,337.1 748.5,338.3 749.6,338.0 750.7,338.1 751.0,338.3 751.8,338.9 752.9,339.9 754.1,340.5 754.6,341.0 755.2,340.8 756.3,340.9 757.4,343.3 758.5,343.2 759.4,343.8 759.6,344.7 760.8,343.4 761.9,343.7 763.0,344.2 764.2,344.7 765.2,345.1 766.3,345.5 767.5,345.3 768.6,345.0 769.0,344.9 769.7,344.5 770.8,345.3 771.9,344.6 773.0,343.5 773.8,343.9 774.1,343.8 775.3,344.2 776.4,343.9 777.5,343.7 778.6,343.3 779.7,343.5 780.8,343.8 782.0,343.9 783.1,343.6 784.2,343.4 784.2,344.9 783.1,345.1 782.0,345.5 780.8,345.6 779.7,345.3 778.6,344.9 777.5,345.0 776.4,345.3 775.3,345.7 774.1,345.2 773.8,345.3 773.0,345.0 771.9,346.0 770.8,346.4 769.7,346.0 769.0,346.2 768.6,346.2 767.5,346.6 766.3,346.6 765.2,346.6 764.2,346.0 763.0,345.5 761.9,345.1 760.8,344.9 759.6,346.3 759.4,345.4 758.5,345.2 757.4,345.4 756.3,343.0 755.2,343.3 754.6,343.4 754.1,343.2 752.9,342.5 751.8,341.5 751.0,341.3 750.7,341.4 749.6,340.9 748.5,341.0 747.4,340.1 746.2,340.6 745.1,340.3 743.8,340.8 742.9,341.2 741.8,341.7 740.7,342.0 739.5,341.8 739.0,342.2 738.4,342.3 737.3,343.1 736.2,341.7 735.1,343.2 734.2,343.4 734.0,343.7 732.9,343.4 731.7,342.2 730.6,342.6 729.4,342.2 728.4,342.1 727.3,341.7 726.2,340.6 725.8,340.1 725.0,339.0 723.9,338.1 722.7,336.9 721.7,337.1 720.6,337.4 720.3,338.4 719.5,339.3 718.3,342.2 717.4,343.4 717.2,343.0 716.1,342.0 715.0,344.2 713.8,344.7 712.8,343.9 711.6,344.3 710.5,345.4 709.7,345.3 709.4,344.8 708.3,345.5 707.2,345.6 706.1,345.0 705.9,345.4 705.0,343.9 703.8,343.5 703.0,342.9 702.7,343.0 701.6,341.6 700.5,340.4 699.9,340.1 699.4,339.9 698.3,342.1 697.0,342.2 696.0,343.6 694.9,344.0 693.8,344.0 693.4,344.2 692.7,342.7 691.6,345.1 690.4,344.8 689.8,345.3 689.3,345.8 688.2,344.8 687.1,346.1 686.2,346.0 686.0,346.5 684.9,346.5 683.8,345.4 682.6,346.5 681.5,345.0 680.4,343.6 679.3,344.4 678.2,343.0 677.8,342.2 677.1,340.1 675.9,335.8 674.8,333.7 674.2,330.5 673.7,329.4 672.6,325.8 671.4,322.5 670.4,325.6 669.2,328.4 668.2,331.7 667.0,336.1 665.9,338.9 664.8,342.5 664.6,343.0 663.7,343.4 662.5,345.3 661.4,344.0 660.3,345.9 659.8,345.6 659.2,344.8 658.1,345.8 657.0,346.4 655.9,345.7 655.0,346.2 654.7,346.8 653.6,346.4 652.5,346.5 651.4,346.6 650.2,346.7 649.2,346.7 648.0,346.7 646.9,346.7 645.8,346.7 644.7,346.7 643.6,346.7 642.5,346.7 641.3,346.7 640.2,346.7 639.1,346.7 638.0,346.7 636.9,346.7 635.8,346.7 634.6,346.7 633.5,346.7 632.4,346.7 631.3,346.7 630.2,346.7 629.1,346.7 628.0,346.7 626.8,346.7 625.7,346.7 624.6,346.7 623.8,346.7 623.5,346.8 622.3,346.6 621.3,343.9 620.6,343.0 620.1,339.4 619.4,337.0 619.0,333.7 618.1,324.5 617.9,322.4 616.9,312.2 615.6,302.0 614.5,296.5 613.4,305.2 613.1,308.0 612.3,316.7 611.8,321.3 611.2,319.6 610.5,318.0 610.1,317.4 609.3,313.8 609.0,316.1 608.0,318.9 607.9,320.7 607.2,326.9 606.7,333.2 605.9,346.4 605.6,346.4 604.5,346.5 603.4,346.5 602.3,346.5 601.2,346.6 600.0,346.6"/>
<polyline fill="none" stroke="#1a1a1a" stroke-width="1.25" stroke-linejoin="round" points="600.0,346.6 601.2,346.6 602.3,346.5 603.4,346.5 604.5,346.5 605.6,346.4 605.9,346.4 606.7,332.3 607.2,325.4 607.9,317.5 608.0,315.3 609.0,309.7 609.3,307.8 610.1,310.5 610.5,312.0 611.2,313.6 611.8,315.3 612.3,311.0 613.1,304.4 613.4,300.8 614.5,290.5 615.6,296.0 616.9,308.6 617.9,320.0 618.1,322.0 619.0,331.9 619.4,335.5 620.1,338.3 620.6,342.2 621.3,343.4 622.3,346.6 623.5,346.8 623.8,346.7 624.6,346.7 625.7,346.7 626.8,346.7 628.0,346.7 629.1,346.7 630.2,346.7 631.3,346.7 632.4,346.7 633.5,346.7 634.6,346.7 635.8,346.7 636.9,346.7 638.0,346.7 639.1,346.7 640.2,346.7 641.3,346.7 642.5,346.7 643.6,346.7 644.7,346.7 645.8,346.7 646.9,346.7 648.0,346.7 649.2,346.7 650.2,346.7 651.4,346.5 652.5,346.3 653.6,346.1 654.7,346.8 655.0,345.8 655.9,345.2 657.0,346.0 658.1,345.3 659.2,344.3 659.8,345.1 660.3,345.4 661.4,343.4 662.5,344.5 663.7,342.8 664.6,342.2 664.8,341.6 665.9,337.7 667.0,334.8 668.2,330.2 669.2,326.9 670.4,323.6 671.4,320.6 672.6,324.1 673.7,327.9 674.2,329.0 674.8,332.1 675.9,334.6 677.1,338.8 677.8,341.0 678.2,342.0 679.3,343.4 680.4,342.7 681.5,344.3 682.6,345.8 683.8,344.8 684.9,345.8 686.0,345.8 686.2,345.3 687.1,345.6 688.2,344.2 689.3,345.2 689.8,344.6 690.4,344.2 691.6,344.3 692.7,341.9 693.4,343.4 693.8,343.2 694.9,343.0 696.0,342.5 697.0,341.0 698.3,340.6 699.4,338.6 699.9,338.6 700.5,339.2 701.6,340.1 702.7,341.6 703.0,341.7 703.8,342.3 705.0,342.8 705.9,344.6 706.1,344.1 707.2,344.9 708.3,344.7 709.4,344.1 709.7,344.6 710.5,344.8 711.6,343.6 712.8,343.2 713.8,343.9 715.0,343.3 716.1,341.1 717.2,341.7 717.4,342.2 718.3,341.1 719.5,338.0 720.3,336.9 720.6,335.9 721.7,335.2 722.7,335.0 723.9,336.2 725.0,337.4 725.8,338.6 726.2,339.3 727.3,340.3 728.4,340.6 729.4,341.0 730.6,341.3 731.7,341.1 732.9,342.1 734.0,342.6 734.2,342.2 735.1,341.9 736.2,340.6 737.3,342.0 738.4,341.0 739.0,341.0 739.5,340.7 740.7,340.5 741.8,340.2 742.9,339.7 743.8,339.3 745.1,338.9 746.2,339.2 747.4,338.6 748.5,339.7 749.6,339.4 750.7,339.8 751.0,339.8 751.8,340.2 752.9,341.2 754.1,341.8 754.6,342.2 755.2,342.0 756.3,341.9 757.4,344.3 758.5,344.2 759.4,344.6 759.6,345.5 760.8,344.2 761.9,344.4 763.0,344.9 764.2,345.3 765.2,345.9 766.3,346.0 767.5,346.0 768.6,345.6 769.0,345.6 769.7,345.3 770.8,345.9 771.9,345.3 773.0,344.2 773.8,344.6 774.1,344.5 775.3,345.0 776.4,344.6 777.5,344.3 778.6,344.1 779.7,344.4 780.8,344.7 782.0,344.7 783.1,344.4 784.2,344.1"/>
<path d="M598.5,242.8 V346.8 H784.5" fill="none" stroke="#111" stroke-width="1.2"/>
<path d="M598.5,346.8 h2.4 M598.5,294.8 h2.4 M598.5,242.8 h2.4 M598.5,346.8 v-2.4 M660.5,346.8 v-2.4 M722.5,346.8 v-2.4 M784.5,346.8 v-2.4" fill="none" stroke="#111" stroke-width="1.2"/>
<text x="592.9" y="354.1" class="t" text-anchor="end">0</text>
<text x="592.9" y="302.1" class="t" text-anchor="end">200</text>
<text x="592.9" y="250.1" class="t" text-anchor="end">400</text>
<text x="598.5" y="370.2" class="t" text-anchor="middle">0</text>
<text x="660.5" y="370.2" class="t" text-anchor="middle">100</text>
<text x="722.5" y="370.2" class="t" text-anchor="middle">200</text>
<text x="784.5" y="370.2" class="t" text-anchor="middle">300</text>
<polygon fill="#969696" stroke="none" points="108.9,515.0 110.0,514.9 111.1,514.8 112.2,514.8 113.3,514.7 114.5,514.6 115.1,514.6 115.6,506.9 116.2,498.8 116.7,487.3 117.2,473.5 117.8,466.9 118.2,461.9 118.9,460.8 120.1,464.2 120.8,471.9 121.1,475.6 121.6,482.0 122.3,486.6 122.8,489.7 123.4,492.1 123.9,493.9 124.5,491.7 125.1,488.9 125.6,487.5 126.3,484.2 126.7,486.1 127.4,490.4 127.8,492.9 129.0,499.8 130.1,503.2 130.4,504.0 131.2,498.3 131.7,493.5 132.3,491.8 132.5,491.2 133.6,498.2 134.5,503.5 134.8,505.4 135.7,509.8 136.0,510.7 136.9,515.0 137.4,515.3 137.9,515.3 138.3,515.3 139.0,515.3 140.1,515.3 141.2,515.3 142.4,515.3 143.5,515.3 144.6,515.3 145.7,515.3 146.8,515.3 147.9,515.3 149.0,515.3 150.2,515.3 151.3,515.3 152.4,515.3 153.5,515.3 154.6,515.3 155.7,515.3 156.6,515.3 156.9,515.2 158.0,514.6 159.1,514.0 160.2,513.4 161.3,514.6 162.4,512.8 163.6,511.9 164.7,514.0 165.0,512.8 165.8,513.1 166.9,513.9 168.0,512.9 169.1,512.7 169.8,512.1 170.3,512.4 171.4,511.6 172.5,511.2 173.6,510.4 174.6,510.5 175.8,511.0 176.9,509.7 178.1,508.6 179.2,509.4 179.4,508.8 180.3,508.6 181.4,507.5 182.5,507.7 183.6,505.9 184.2,506.1 184.8,505.6 185.9,507.0 187.0,505.7 187.8,504.9 188.1,504.9 189.2,504.7 190.3,504.7 191.4,504.4 192.6,504.9 193.7,504.8 194.8,504.5 195.9,504.6 196.2,505.4 197.0,505.4 198.2,506.2 199.3,504.9 199.8,504.9 200.4,505.3 201.5,504.8 202.6,503.7 203.4,504.4 203.7,505.1 204.8,505.3 206.0,504.8 207.1,504.6 208.2,504.9 209.3,505.9 210.4,505.7 211.5,506.4 212.7,505.9 213.0,506.1 213.8,506.7 214.9,506.0 216.0,506.0 217.1,508.4 217.8,508.5 218.2,508.7 219.4,508.2 220.5,510.0 221.6,510.7 222.6,510.8 223.8,510.0 224.9,510.1 226.1,510.9 227.2,511.2 227.4,510.0 228.3,509.6 229.4,508.5 230.5,509.0 231.6,509.4 232.2,508.5 232.7,506.7 233.9,505.1 235.0,502.9 235.8,501.6 236.1,501.0 237.2,499.3 238.3,497.7 239.4,497.4 240.6,495.9 241.7,497.8 242.8,498.5 243.9,500.1 244.2,501.6 245.0,503.5 246.1,504.4 247.3,507.8 247.8,508.5 248.4,509.3 249.5,508.4 250.6,509.1 251.7,509.7 252.6,510.8 252.8,511.5 254.0,511.6 255.1,511.6 256.2,511.7 257.3,512.0 258.6,512.1 259.5,511.4 260.6,511.6 261.8,512.5 262.9,513.1 263.4,512.8 264.0,512.9 265.1,512.7 266.2,512.6 267.3,514.0 268.2,513.4 268.5,514.0 269.6,513.3 270.7,512.8 271.8,513.8 273.0,513.2 274.0,513.4 275.2,512.8 276.3,512.8 277.4,513.6 277.8,512.8 278.5,512.3 279.6,511.4 280.7,512.5 281.9,511.6 282.6,511.2 283.0,510.7 284.1,510.5 285.2,510.8 286.3,510.6 287.4,509.2 288.5,508.0 289.7,507.7 290.8,507.7 291.0,506.9 291.9,506.2 293.0,504.9 294.1,504.0 294.1,508.9 293.0,509.8 291.9,509.8 291.0,510.7 290.8,510.9 289.7,511.1 288.5,511.4 287.4,512.2 286.3,513.6 285.2,513.2 284.1,513.3 283.0,513.1 282.6,513.6 281.9,513.6 280.7,514.4 279.6,513.5 278.5,513.7 277.8,514.4 277.4,515.3 276.3,514.3 275.2,514.3 274.0,514.8 273.0,514.5 271.8,515.1 270.7,514.0 269.6,514.6 268.5,515.3 268.2,514.7 267.3,515.2 266.2,514.0 265.1,514.3 264.0,514.3 263.4,514.4 262.9,514.8 261.8,514.3 260.6,513.3 259.5,513.2 258.6,513.7 257.3,513.7 256.2,513.8 255.1,513.7 254.0,514.1 252.8,513.9 252.6,513.1 251.7,511.8 250.6,511.6 249.5,510.9 248.4,512.0 247.8,511.5 247.3,511.4 246.1,509.7 245.0,509.9 244.2,508.8 243.9,508.5 242.8,507.8 241.7,508.8 240.6,507.3 239.4,508.0 238.3,507.2 237.2,508.1 236.1,509.0 235.8,508.8 235.0,509.7 233.9,509.7 232.7,510.3 232.2,511.5 231.6,512.6 230.5,511.4 229.4,510.9 228.3,511.8 227.4,512.4 227.2,513.4 226.1,513.0 224.9,512.1 223.8,512.6 222.6,513.1 221.6,512.8 220.5,512.4 219.4,510.8 218.2,512.0 217.8,511.5 217.1,511.6 216.0,509.1 214.9,508.9 213.8,509.8 213.0,509.1 212.7,509.0 211.5,509.3 210.4,508.6 209.3,509.3 208.2,507.9 207.1,507.5 206.0,508.0 204.8,508.3 203.7,507.7 203.4,507.4 202.6,506.5 201.5,507.8 200.4,508.2 199.8,507.9 199.3,507.8 198.2,509.1 197.0,508.3 196.2,508.4 195.9,507.9 194.8,507.6 193.7,508.0 192.6,508.2 191.4,507.4 190.3,507.5 189.2,507.3 188.1,508.2 187.8,507.9 187.0,508.3 185.9,510.2 184.8,508.5 184.2,509.1 183.6,508.7 182.5,510.2 181.4,510.2 180.3,511.0 179.4,511.2 179.2,511.9 178.1,511.1 176.9,511.9 175.8,513.3 174.6,512.8 173.6,512.6 172.5,513.5 171.4,513.5 170.3,514.1 169.8,513.7 169.1,514.6 168.0,514.3 166.9,515.3 165.8,514.7 165.0,514.4 164.7,515.3 163.6,513.5 162.4,514.3 161.3,515.3 160.2,514.7 159.1,515.0 158.0,515.1 156.9,515.2 156.6,515.3 155.7,515.3 154.6,515.3 153.5,515.3 152.4,515.3 151.3,515.3 150.2,515.3 149.0,515.3 147.9,515.3 146.8,515.3 145.7,515.3 144.6,515.3 143.5,515.3 142.4,515.3 141.2,515.3 140.1,515.3 139.0,515.3 138.3,515.3 137.9,515.3 137.4,515.3 136.9,515.0 136.0,513.1 135.7,512.8 134.8,509.1 134.5,508.5 133.6,505.4 132.5,503.2 132.3,504.1 131.7,505.5 131.2,507.0 130.4,509.0 130.1,508.3 129.0,507.0 127.8,503.2 127.4,502.4 126.7,498.3 126.3,496.2 125.6,498.7 125.1,500.9 124.5,502.0 123.9,503.6 123.4,500.1 122.8,496.9 122.3,493.2 121.6,489.2 121.1,483.1 120.8,479.1 120.1,471.4 118.9,467.0 118.2,469.1 117.8,473.4 117.2,480.7 116.7,491.7 116.2,501.8 115.6,508.0 115.1,514.6 114.5,514.6 113.3,514.7 112.2,514.8 111.1,514.8 110.0,514.9 108.9,515.0"/>
<polyline fill="none" stroke="#1a1a1a" stroke-width="1.25" stroke-linejoin="round" points="108.9,515.0 110.0,514.9 111.1,514.8 112.2,514.8 113.3,514.7 114.5,514.6 115.1,514.6 115.6,507.4 116.2,500.3 116.7,489.5 117.2,477.1 117.8,470.1 118.2,465.5 118.9,463.9 120.1,467.8 120.8,475.5 121.1,479.4 121.6,485.6 122.3,489.9 122.8,493.3 123.4,496.1 123.9,498.7 124.5,496.8 125.1,494.9 125.6,493.1 126.3,490.2 126.7,492.2 127.4,496.4 127.8,498.1 129.0,503.4 130.1,505.8 130.4,506.5 131.2,502.7 131.7,499.5 132.3,498.0 132.5,497.2 133.6,501.8 134.5,506.0 134.8,507.3 135.7,511.3 136.0,511.9 136.9,515.0 137.4,515.3 137.9,515.3 138.3,515.3 139.0,515.3 140.1,515.3 141.2,515.3 142.4,515.3 143.5,515.3 144.6,515.3 145.7,515.3 146.8,515.3 147.9,515.3 149.0,515.3 150.2,515.3 151.3,515.3 152.4,515.3 153.5,515.3 154.6,515.3 155.7,515.3 156.6,515.3 156.9,515.2 158.0,514.8 159.1,514.5 160.2,514.1 161.3,515.3 162.4,513.6 163.6,512.7 164.7,514.8 165.0,513.6 165.8,513.9 166.9,514.7 168.0,513.6 169.1,513.7 169.8,512.9 170.3,513.3 171.4,512.6 172.5,512.3 173.6,511.5 174.6,511.7 175.8,512.1 176.9,510.8 178.1,509.8 179.2,510.7 179.4,510.0 180.3,509.8 181.4,508.8 182.5,508.9 183.6,507.3 184.2,507.6 184.8,507.1 185.9,508.6 187.0,507.0 187.8,506.4 188.1,506.6 189.2,506.0 190.3,506.1 191.4,505.9 192.6,506.6 193.7,506.4 194.8,506.0 195.9,506.2 196.2,506.9 197.0,506.9 198.2,507.7 199.3,506.4 199.8,506.4 200.4,506.7 201.5,506.3 202.6,505.1 203.4,505.9 203.7,506.4 204.8,506.8 206.0,506.4 207.1,506.0 208.2,506.4 209.3,507.6 210.4,507.2 211.5,507.8 212.7,507.4 213.0,507.6 213.8,508.3 214.9,507.5 216.0,507.5 217.1,510.0 217.8,510.0 218.2,510.4 219.4,509.5 220.5,511.2 221.6,511.7 222.6,511.9 223.8,511.3 224.9,511.1 226.1,512.0 227.2,512.3 227.4,511.2 228.3,510.7 229.4,509.7 230.5,510.2 231.6,511.0 232.2,510.0 232.7,508.5 233.9,507.4 235.0,506.3 235.8,505.2 236.1,505.0 237.2,503.7 238.3,502.5 239.4,502.7 240.6,501.6 241.7,503.3 242.8,503.2 243.9,504.3 244.2,505.2 245.0,506.7 246.1,507.1 247.3,509.6 247.8,510.0 248.4,510.6 249.5,509.7 250.6,510.4 251.7,510.8 252.6,511.9 252.8,512.7 254.0,512.9 255.1,512.7 256.2,512.8 257.3,512.8 258.6,512.9 259.5,512.3 260.6,512.4 261.8,513.4 262.9,514.0 263.4,513.6 264.0,513.6 265.1,513.5 266.2,513.3 267.3,514.6 268.2,514.1 268.5,514.7 269.6,513.9 270.7,513.4 271.8,514.5 273.0,513.8 274.0,514.1 275.2,513.5 276.3,513.5 277.4,514.4 277.8,513.6 278.5,513.0 279.6,512.4 280.7,513.5 281.9,512.6 282.6,512.4 283.0,511.9 284.1,511.9 285.2,512.0 286.3,512.1 287.4,510.7 288.5,509.7 289.7,509.4 290.8,509.3 291.0,508.8 291.9,508.0 293.0,507.4 294.1,506.4"/>
<path d="M108.5,411.3 V515.3 H294.5" fill="none" stroke="#111" stroke-width="1.2"/>
<path d="M108.5,515.3 h2.4 M108.5,463.3 h2.4 M108.5,411.3 h2.4 M108.5,515.3 v-2.4 M170.5,515.3 v-2.4 M232.5,515.3 v-2.4 M294.5,515.3 v-2.4" fill="none" stroke="#111" stroke-width="1.2"/>
<text x="102.9" y="522.6" class="t" text-anchor="end">0</text>
<text x="102.9" y="470.6" class="t" text-anchor="end">200</text>
<text x="102.9" y="418.6" class="t" text-anchor="end">400</text>
<text x="108.5" y="538.7" class="t" text-anchor="middle">0</text>
<text x="170.5" y="538.7" class="t" text-anchor="middle">100</text>
<text x="232.5" y="538.7" class="t" text-anchor="middle">200</text>
<text x="294.5" y="538.7" class="t" text-anchor="middle">300</text>
<polygon fill="#969696" stroke="none" points="357.7,515.3 358.8,515.2 360.1,515.1 360.8,494.9 361.1,487.5 361.6,470.7 362.2,459.6 362.4,456.4 363.3,461.9 364.3,469.2 365.5,477.5 366.6,485.4 367.8,493.4 368.9,498.6 369.4,501.4 370.0,504.3 370.9,508.1 371.1,509.7 372.2,511.8 372.4,513.1 373.3,514.8 373.6,515.3 374.5,515.3 374.8,515.3 375.6,515.3 376.7,515.3 377.8,515.3 378.9,515.3 380.0,515.3 381.2,515.3 382.3,515.3 383.4,515.3 384.5,515.3 385.6,515.3 386.7,515.3 387.8,515.3 389.0,515.3 390.1,515.3 391.2,515.3 392.3,515.3 393.4,515.3 394.5,515.3 395.6,515.3 396.8,513.9 398.0,513.1 399.0,514.3 400.1,511.4 401.2,510.1 401.6,509.9 402.4,511.4 403.5,510.9 404.6,511.2 405.2,510.9 405.7,510.7 406.8,510.0 407.9,510.2 408.8,510.4 409.1,510.9 410.2,510.5 411.3,510.5 412.4,510.9 413.5,511.0 414.6,511.2 415.0,510.9 415.7,507.7 416.9,501.3 418.0,493.6 419.0,485.6 420.2,479.4 421.2,473.8 422.4,478.8 423.1,481.3 423.6,483.2 424.7,488.7 425.0,490.5 425.8,492.2 426.9,495.8 427.2,496.8 428.0,498.8 429.1,502.2 429.6,502.9 430.3,504.7 431.4,506.1 432.1,508.4 432.5,508.9 433.6,510.6 434.5,512.5 434.7,513.2 435.8,511.7 437.0,512.2 437.8,512.5 438.1,513.1 439.2,510.6 440.2,510.5 441.4,510.3 442.7,508.9 443.6,509.5 444.8,510.0 445.9,511.7 447.0,512.3 448.1,513.2 449.1,513.5 450.3,513.5 451.5,514.0 452.6,514.3 453.2,514.4 453.7,514.4 454.8,514.2 455.9,514.1 457.0,513.6 457.2,513.9 458.2,512.8 459.3,510.5 459.7,509.7 460.4,508.2 461.5,506.9 462.1,505.3 462.6,503.6 463.7,504.5 464.5,503.7 464.9,503.3 466.0,503.5 467.0,504.2 468.2,504.6 469.3,503.3 470.2,504.9 471.5,505.2 472.7,506.5 473.5,505.7 473.8,505.3 474.9,506.4 476.0,507.3 476.8,506.6 477.1,506.5 478.2,507.7 479.4,508.3 480.0,507.8 480.5,507.5 481.6,507.7 482.7,507.7 483.3,508.1 483.8,507.3 484.9,507.6 486.1,509.0 486.5,508.1 487.2,507.4 488.3,508.2 489.4,507.0 489.8,507.0 490.5,505.8 491.6,503.9 492.2,503.7 492.8,503.7 493.9,502.9 495.0,502.6 495.4,502.9 496.1,502.7 497.2,502.5 497.9,501.2 498.3,500.6 499.4,500.3 500.3,500.1 500.6,500.8 501.7,500.6 502.8,501.4 503.5,502.6 503.9,504.0 505.0,504.2 506.0,506.2 507.3,507.4 508.4,507.9 509.2,509.4 509.5,509.5 510.6,509.5 511.7,511.4 512.5,510.5 512.8,510.1 514.0,509.7 515.1,510.1 515.8,509.4 516.2,510.5 517.3,509.7 518.4,509.1 519.0,508.9 519.5,508.5 520.7,509.1 521.8,509.2 522.3,509.4 522.9,510.4 524.0,510.5 525.1,512.5 525.5,511.4 526.2,511.7 527.3,511.7 528.5,512.1 528.8,512.2 529.6,512.9 530.7,512.4 532.0,512.7 532.9,512.3 534.0,512.8 535.2,513.5 536.3,513.7 537.4,513.9 538.5,514.1 539.3,513.8 539.3,514.8 538.5,515.2 537.4,515.3 536.3,515.0 535.2,514.8 534.0,514.1 532.9,513.5 532.0,514.0 530.7,514.0 529.6,514.5 528.8,513.8 528.5,513.9 527.3,513.5 526.2,513.2 525.5,513.0 525.1,514.3 524.0,512.2 522.9,512.5 522.3,511.7 521.8,511.7 520.7,511.1 519.5,511.0 519.0,511.2 518.4,511.7 517.3,511.9 516.2,513.0 515.8,511.7 515.1,512.5 514.0,512.0 512.8,512.4 512.5,512.8 511.7,513.8 510.6,512.0 509.5,511.7 509.2,511.7 508.4,510.4 507.3,510.3 506.0,509.1 505.0,507.5 503.9,506.8 503.5,505.5 502.8,504.9 501.7,503.6 500.6,504.3 500.3,503.8 499.4,504.5 498.3,504.8 497.9,504.9 497.2,505.8 496.1,505.4 495.4,505.9 495.0,505.1 493.9,506.2 492.8,506.9 492.2,506.7 491.6,507.2 490.5,508.8 489.8,509.9 489.4,510.0 488.3,511.2 487.2,510.5 486.5,511.1 486.1,511.7 484.9,510.8 483.8,510.6 483.3,511.1 482.7,510.6 481.6,510.4 480.5,510.9 480.0,510.7 479.4,510.9 478.2,510.3 477.1,509.3 476.8,509.6 476.0,510.3 474.9,509.3 473.8,508.5 473.5,508.6 472.7,509.0 471.5,508.4 470.2,507.8 469.3,506.7 468.2,507.9 467.0,507.2 466.0,506.8 464.9,505.9 464.5,506.7 463.7,507.5 462.6,507.0 462.1,508.3 461.5,509.8 460.4,511.0 459.7,512.0 459.3,512.6 458.2,514.2 457.2,515.0 457.0,514.5 455.9,515.1 454.8,515.3 453.7,515.3 453.2,515.3 452.6,515.3 451.5,515.2 450.3,514.9 449.1,514.8 448.1,514.6 447.0,513.7 445.9,513.3 444.8,511.6 443.6,511.7 442.7,511.2 441.4,512.5 440.2,512.8 439.2,512.4 438.1,514.8 437.8,514.1 437.0,513.7 435.8,513.3 434.7,514.9 434.5,514.1 433.6,512.7 432.5,511.3 432.1,510.7 431.4,508.3 430.3,507.8 429.6,505.9 429.1,505.1 428.0,502.6 427.2,500.6 426.9,500.2 425.8,496.8 425.0,495.5 424.7,494.1 423.6,489.9 423.1,488.5 422.4,486.6 421.2,483.6 420.2,486.8 419.0,490.6 418.0,497.2 416.9,504.2 415.7,509.7 415.0,512.5 414.6,512.9 413.5,512.7 412.4,512.5 411.3,512.0 410.2,511.9 409.1,512.7 408.8,512.0 407.9,511.7 406.8,511.6 405.7,512.2 405.2,512.5 404.6,512.8 403.5,512.3 402.4,513.2 401.6,511.5 401.2,511.7 400.1,513.0 399.0,515.3 398.0,514.1 396.8,514.4 395.6,515.3 394.5,515.3 393.4,515.3 392.3,515.3 391.2,515.3 390.1,515.3 389.0,515.3 387.8,515.3 386.7,515.3 385.6,515.3 384.5,515.3 383.4,515.3 382.3,515.3 381.2,515.3 380.0,515.3 378.9,515.3 377.8,515.3 376.7,515.3 375.6,515.3 374.8,515.3 374.5,515.3 373.6,515.3 373.3,515.0 372.4,513.9 372.2,512.5 371.1,511.1 370.9,509.5 370.0,505.9 369.4,503.8 368.9,500.8 367.8,496.3 366.6,490.4 365.5,481.3 364.3,474.2 363.3,469.1 362.4,468.4 362.2,470.6 361.6,475.7 361.1,491.0 360.8,497.9 360.1,515.1 358.8,515.2 357.7,515.3"/>
<polyline fill="none" stroke="#1a1a1a" stroke-width="1.25" stroke-linejoin="round" points="357.7,515.3 358.8,515.2 360.1,515.1 360.8,496.4 361.1,489.2 361.6,473.2 362.2,465.1 362.4,462.4 363.3,465.5 364.3,471.7 365.5,479.4 366.6,487.9 367.8,494.9 368.9,499.7 369.4,502.6 370.0,505.1 370.9,508.8 371.1,510.4 372.2,512.1 372.4,513.5 373.3,514.9 373.6,515.3 374.5,515.3 374.8,515.3 375.6,515.3 376.7,515.3 377.8,515.3 378.9,515.3 380.0,515.3 381.2,515.3 382.3,515.3 383.4,515.3 384.5,515.3 385.6,515.3 386.7,515.3 387.8,515.3 389.0,515.3 390.1,515.3 391.2,515.3 392.3,515.3 393.4,515.3 394.5,515.3 395.6,515.3 396.8,514.2 398.0,513.6 399.0,514.8 400.1,512.2 401.2,510.9 401.6,510.7 402.4,512.3 403.5,511.6 404.6,512.0 405.2,511.7 405.7,511.4 406.8,510.8 407.9,511.0 408.8,511.2 409.1,511.8 410.2,511.2 411.3,511.2 412.4,511.7 413.5,511.8 414.6,512.0 415.0,511.7 415.7,508.7 416.9,502.7 418.0,495.4 419.0,488.1 420.2,483.1 421.2,478.7 422.4,482.7 423.1,484.9 423.6,486.6 424.7,491.4 425.0,493.0 425.8,494.5 426.9,498.0 427.2,498.7 428.0,500.7 429.1,503.7 429.6,504.4 430.3,506.3 431.4,507.2 432.1,509.6 432.5,510.1 433.6,511.6 434.5,513.3 434.7,514.1 435.8,512.5 437.0,513.0 437.8,513.3 438.1,513.9 439.2,511.5 440.2,511.7 441.4,511.4 442.7,510.1 443.6,510.6 444.8,510.8 445.9,512.5 447.0,513.0 448.1,513.9 449.1,514.1 450.3,514.2 451.5,514.6 452.6,514.8 453.2,514.9 453.7,514.9 454.8,514.7 455.9,514.6 457.0,514.1 457.2,514.4 458.2,513.5 459.3,511.6 459.7,510.9 460.4,509.6 461.5,508.3 462.1,506.8 462.6,505.3 463.7,506.0 464.5,505.2 464.9,504.6 466.0,505.1 467.0,505.7 468.2,506.2 469.3,505.0 470.2,506.3 471.5,506.8 472.7,507.7 473.5,507.1 473.8,506.9 474.9,507.9 476.0,508.8 476.8,508.1 477.1,507.9 478.2,509.0 479.4,509.6 480.0,509.2 480.5,509.2 481.6,509.0 482.7,509.2 483.3,509.6 483.8,509.0 484.9,509.2 486.1,510.3 486.5,509.6 487.2,509.0 488.3,509.7 489.4,508.5 489.8,508.4 490.5,507.3 491.6,505.6 492.2,505.2 492.8,505.3 493.9,504.6 495.0,503.9 495.4,504.4 496.1,504.0 497.2,504.1 497.9,503.1 498.3,502.7 499.4,502.4 500.3,501.9 500.6,502.6 501.7,502.1 502.8,503.1 503.5,504.0 503.9,505.4 505.0,505.8 506.0,507.6 507.3,508.8 508.4,509.1 509.2,510.5 509.5,510.6 510.6,510.7 511.7,512.6 512.5,511.7 512.8,511.2 514.0,510.8 515.1,511.3 515.8,510.5 516.2,511.8 517.3,510.8 518.4,510.4 519.0,510.1 519.5,509.8 520.7,510.1 521.8,510.5 522.3,510.5 522.9,511.4 524.0,511.4 525.1,513.4 525.5,512.2 526.2,512.4 527.3,512.6 528.5,513.0 528.8,513.0 529.6,513.7 530.7,513.2 532.0,513.3 532.9,512.9 534.0,513.5 535.2,514.1 536.3,514.3 537.4,514.6 538.5,514.6 539.3,514.3"/>
<path d="M353.5,411.3 V515.3 H539.5" fill="none" stroke="#111" stroke-width="1.2"/>
<path d="M353.5,515.3 h2.4 M353.5,463.3 h2.4 M353.5,411.3 h2.4 M353.5,515.3 v-2.4 M415.5,515.3 v-2.4 M477.5,515.3 v-2.4 M539.5,515.3 v-2.4" fill="none" stroke="#111" stroke-width="1.2"/>
<text x="347.9" y="522.6" class="t" text-anchor="end">0</text>
<text x="347.9" y="470.6" class="t" text-anchor="end">200</text>
<text x="347.9" y="418.6" class="t" text-anchor="end">400</text>
<text x="353.5" y="538.7" class="t" text-anchor="middle">0</text>
<text x="415.5" y="538.7" class="t" text-anchor="middle">100</text>
<text x="477.5" y="538.7" class="t" text-anchor="middle">200</text>
<text x="539.5" y="538.7" class="t" text-anchor="middle">300</text>
<polygon fill="#969696" stroke="none" points="598.9,515.0 600.0,515.0 601.1,515.0 602.2,515.1 603.3,515.1 604.5,515.1 605.6,515.1 606.2,515.1 606.7,511.0 607.4,502.7 607.8,498.5 608.5,489.7 608.9,485.7 609.7,479.6 610.0,479.4 611.3,476.5 612.3,473.6 612.8,471.1 613.4,467.3 613.9,463.3 614.5,458.5 614.7,457.1 615.5,462.6 616.7,473.5 617.8,480.4 618.2,483.1 619.0,486.9 619.8,491.9 620.1,493.6 621.3,499.9 622.3,505.1 622.9,508.0 623.4,509.9 624.4,512.9 625.0,515.3 625.7,515.3 626.0,515.3 626.8,515.3 627.5,515.3 627.9,515.3 629.0,515.3 630.1,515.3 631.2,515.3 632.4,515.3 633.5,515.3 634.6,515.3 635.7,515.3 636.8,515.3 637.9,515.3 639.0,515.3 640.2,515.3 641.3,515.3 642.4,515.3 643.5,515.3 644.6,515.3 645.7,515.3 646.9,515.3 648.0,515.3 649.0,515.3 650.2,514.9 651.3,514.6 652.4,514.3 653.6,514.6 653.8,513.9 654.7,513.1 655.8,512.2 656.9,512.3 658.0,512.1 658.6,512.6 659.1,513.8 660.3,511.9 661.4,511.2 662.2,510.4 662.5,510.1 663.6,507.9 664.7,505.1 665.8,502.5 666.9,497.2 668.1,493.3 669.2,489.0 669.4,487.7 670.3,484.4 671.4,479.8 671.8,478.7 672.5,480.8 673.6,484.6 674.7,487.7 675.9,493.9 677.0,499.4 677.8,502.5 678.1,503.9 679.2,505.8 680.3,508.8 681.4,511.1 682.6,511.1 683.7,511.3 684.8,512.7 685.9,513.4 686.2,513.6 687.0,513.3 688.2,513.4 689.3,512.5 690.4,513.9 691.0,512.9 691.5,514.1 692.6,512.7 693.7,513.4 694.8,513.1 695.8,512.9 697.1,511.7 698.2,511.8 699.3,511.9 699.9,511.6 700.4,512.2 701.5,512.0 702.7,513.0 703.8,513.4 704.2,512.9 704.9,513.5 706.0,513.9 707.1,514.1 708.2,514.4 709.4,514.0 710.2,513.4 710.5,513.4 711.6,513.4 712.7,512.2 713.8,514.1 715.0,512.9 716.1,510.9 717.2,508.3 718.3,506.4 718.6,504.9 719.4,502.2 720.5,499.7 721.6,495.9 722.2,494.3 722.7,493.1 723.9,491.3 725.0,493.1 726.1,495.5 727.0,496.8 728.3,498.7 729.4,499.2 730.6,501.0 731.7,501.2 732.8,502.3 733.9,503.1 734.2,502.7 735.0,503.1 736.1,503.7 737.3,503.4 738.4,504.7 739.0,504.5 739.5,504.7 740.6,505.3 741.7,504.0 742.8,505.4 743.8,505.2 745.1,505.8 746.2,505.6 747.3,505.7 748.6,506.5 749.5,506.4 750.6,506.4 751.8,507.1 752.9,507.1 753.4,506.9 754.0,506.8 755.1,507.6 756.2,509.0 757.3,508.6 758.2,509.2 758.5,510.8 759.6,509.6 760.7,510.1 761.8,509.9 763.0,510.8 764.0,510.6 765.2,510.8 766.3,510.0 767.4,512.1 767.8,511.6 768.5,511.0 769.6,511.4 770.7,511.4 771.9,510.1 772.6,511.1 773.0,511.5 774.1,510.6 775.2,510.7 776.3,510.9 777.4,510.4 778.5,510.7 779.7,511.9 780.8,509.6 781.0,510.9 781.9,510.3 783.0,510.3 784.1,511.0 784.1,512.7 783.0,512.0 781.9,511.8 781.0,512.5 780.8,511.3 779.7,513.7 778.5,512.3 777.4,512.0 776.3,512.7 775.2,512.4 774.1,512.1 773.0,513.3 772.6,512.7 771.9,511.9 770.7,513.1 769.6,513.2 768.5,512.7 767.8,513.2 767.4,513.6 766.3,511.8 765.2,512.8 764.0,513.0 763.0,513.1 761.8,512.0 760.7,512.5 759.6,512.7 758.5,514.0 758.2,512.2 757.3,512.0 756.2,511.7 755.1,510.2 754.0,509.8 753.4,509.8 752.9,510.1 751.8,510.7 750.6,510.2 749.5,509.8 748.6,510.2 747.3,510.0 746.2,509.4 745.1,509.2 743.8,509.0 742.8,509.3 741.7,507.4 740.6,509.2 739.5,508.3 739.0,508.3 738.4,508.6 737.3,507.8 736.1,508.1 735.0,508.0 734.2,507.7 733.9,508.1 732.8,506.9 731.7,505.9 730.6,506.0 729.4,505.2 728.3,505.4 727.0,504.0 726.1,503.6 725.0,500.1 723.9,498.5 722.7,499.1 722.2,499.3 721.6,500.7 720.5,504.0 719.4,505.7 718.6,507.9 718.3,509.0 717.2,510.4 716.1,512.7 715.0,514.3 713.8,515.3 712.7,513.4 711.6,514.9 710.5,514.7 710.2,514.7 709.4,515.2 708.2,515.3 707.1,515.3 706.0,515.1 704.9,514.8 704.2,514.3 703.8,514.9 702.7,514.5 701.5,513.4 700.4,513.9 699.9,513.2 699.3,513.3 698.2,513.1 697.1,513.0 695.8,514.3 694.8,514.3 693.7,514.9 692.6,513.9 691.5,515.3 691.0,514.3 690.4,515.2 689.3,513.7 688.2,514.9 687.0,514.8 686.2,515.0 685.9,514.6 684.8,514.3 683.7,512.9 682.6,512.8 681.4,512.7 680.3,510.9 679.2,508.4 678.1,507.1 677.8,505.5 677.0,503.0 675.9,496.9 674.7,491.5 673.6,488.8 672.5,485.7 671.8,483.7 671.4,485.3 670.3,488.5 669.4,491.5 669.2,492.3 668.1,496.3 666.9,500.5 665.8,505.5 664.7,507.5 663.6,510.2 662.5,511.7 662.2,512.0 661.4,512.8 660.3,513.2 659.1,514.9 658.6,513.6 658.0,513.1 656.9,513.4 655.8,513.1 654.7,513.9 653.8,514.7 653.6,515.3 652.4,514.9 651.3,515.0 650.2,515.1 649.0,515.3 648.0,515.3 646.9,515.3 645.7,515.3 644.6,515.3 643.5,515.3 642.4,515.3 641.3,515.3 640.2,515.3 639.0,515.3 637.9,515.3 636.8,515.3 635.7,515.3 634.6,515.3 633.5,515.3 632.4,515.3 631.2,515.3 630.1,515.3 629.0,515.3 627.9,515.3 627.5,515.3 626.8,515.3 626.0,515.3 625.7,515.3 625.0,515.3 624.4,514.0 623.4,511.4 622.9,509.6 622.3,506.8 621.3,502.2 620.1,496.7 619.8,494.8 619.0,491.5 618.2,488.1 617.8,486.6 616.7,480.7 615.5,474.6 614.7,469.1 614.5,471.5 613.9,475.3 613.4,479.1 612.8,483.1 612.3,484.4 611.3,488.5 610.0,490.8 609.7,491.6 608.9,494.8 608.5,496.9 607.8,502.8 607.4,505.6 606.7,511.9 606.2,515.1 605.6,515.1 604.5,515.1 603.3,515.1 602.2,515.1 601.1,515.0 600.0,515.0 598.9,515.0"/>
<polyline fill="none" stroke="#1a1a1a" stroke-width="1.25" stroke-linejoin="round" points="598.9,515.0 600.0,515.0 601.1,515.0 602.2,515.1 603.3,515.1 604.5,515.1 605.6,515.1 606.2,515.1 606.7,511.4 607.4,504.1 607.8,500.7 608.5,493.3 608.9,490.3 609.7,485.6 610.0,485.1 611.3,482.5 612.3,479.0 612.8,477.1 613.4,473.2 613.9,469.3 614.5,465.0 614.7,463.1 615.5,468.6 616.7,477.1 617.8,483.5 618.2,485.6 619.0,489.2 619.8,493.3 620.1,495.1 621.3,501.1 622.3,506.0 622.9,508.8 623.4,510.7 624.4,513.5 625.0,515.3 625.7,515.3 626.0,515.3 626.8,515.3 627.5,515.3 627.9,515.3 629.0,515.3 630.1,515.3 631.2,515.3 632.4,515.3 633.5,515.3 634.6,515.3 635.7,515.3 636.8,515.3 637.9,515.3 639.0,515.3 640.2,515.3 641.3,515.3 642.4,515.3 643.5,515.3 644.6,515.3 645.7,515.3 646.9,515.3 648.0,515.3 649.0,515.3 650.2,515.0 651.3,514.8 652.4,514.6 653.6,515.0 653.8,514.3 654.7,513.5 655.8,512.7 656.9,512.9 658.0,512.6 658.6,513.1 659.1,514.3 660.3,512.6 661.4,512.0 662.2,511.2 662.5,510.9 663.6,509.0 664.7,506.3 665.8,504.0 666.9,498.9 668.1,494.8 669.2,490.6 669.4,489.6 670.3,486.4 671.4,482.6 671.8,481.2 672.5,483.2 673.6,486.7 674.7,489.6 675.9,495.4 677.0,501.2 677.8,504.0 678.1,505.5 679.2,507.1 680.3,509.8 681.4,511.9 682.6,512.0 683.7,512.1 684.8,513.5 685.9,514.0 686.2,514.3 687.0,514.1 688.2,514.2 689.3,513.1 690.4,514.6 691.0,513.6 691.5,514.7 692.6,513.3 693.7,514.1 694.8,513.7 695.8,513.6 697.1,512.3 698.2,512.5 699.3,512.6 699.9,512.4 700.4,513.1 701.5,512.7 702.7,513.7 703.8,514.2 704.2,513.6 704.9,514.1 706.0,514.5 707.1,514.8 708.2,515.1 709.4,514.6 710.2,514.1 710.5,514.1 711.6,514.2 712.7,512.8 713.8,514.8 715.0,513.6 716.1,511.8 717.2,509.3 718.3,507.7 718.6,506.4 719.4,503.9 720.5,501.9 721.6,498.3 722.2,496.8 722.7,496.1 723.9,494.9 725.0,496.6 726.1,499.5 727.0,500.4 728.3,502.0 729.4,502.2 730.6,503.5 731.7,503.5 732.8,504.6 733.9,505.6 734.2,505.2 735.0,505.6 736.1,505.9 737.3,505.6 738.4,506.7 739.0,506.4 739.5,506.5 740.6,507.3 741.7,505.7 742.8,507.4 743.8,507.1 745.1,507.5 746.2,507.5 747.3,507.8 748.6,508.3 749.5,508.1 750.6,508.3 751.8,508.9 752.9,508.6 753.4,508.3 754.0,508.3 755.1,508.9 756.2,510.3 757.3,510.3 758.2,510.7 758.5,512.4 759.6,511.1 760.7,511.3 761.8,511.0 763.0,511.9 764.0,511.8 765.2,511.8 766.3,510.9 767.4,512.8 767.8,512.4 768.5,511.8 769.6,512.3 770.7,512.2 771.9,511.0 772.6,511.9 773.0,512.4 774.1,511.4 775.2,511.5 776.3,511.8 777.4,511.2 778.5,511.5 779.7,512.8 780.8,510.5 781.0,511.7 781.9,511.1 783.0,511.1 784.1,511.8"/>
<path d="M598.5,411.3 V515.3 H784.5" fill="none" stroke="#111" stroke-width="1.2"/>
<path d="M598.5,515.3 h2.4 M598.5,463.3 h2.4 M598.5,411.3 h2.4 M598.5,515.3 v-2.4 M660.5,515.3 v-2.4 M722.5,515.3 v-2.4 M784.5,515.3 v-2.4" fill="none" stroke="#111" stroke-width="1.2"/>
<text x="592.9" y="522.6" class="t" text-anchor="end">0</text>
<text x="592.9" y="470.6" class="t" text-anchor="end">200</text>
<text x="592.9" y="418.6" class="t" text-anchor="end">400</text>
<text x="598.5" y="538.7" class="t" text-anchor="middle">0</text>
<text x="660.5" y="538.7" class="t" text-anchor="middle">100</text>
<text x="722.5" y="538.7" class="t" text-anchor="middle">200</text>
<text x="784.5" y="538.7" class="t" text-anchor="middle">300</text>
<polygon fill="#969696" stroke="none" points="108.8,683.7 109.9,683.7 111.0,683.7 112.2,683.7 113.3,683.7 114.4,683.7 114.9,683.7 115.5,680.7 116.1,675.8 116.6,665.9 117.2,654.6 117.7,646.4 118.1,640.7 118.9,636.4 119.1,635.0 120.0,634.1 120.3,634.2 121.1,635.3 121.4,635.0 122.2,634.8 122.6,635.8 123.3,636.6 123.7,636.9 124.4,638.6 124.9,639.2 125.5,642.4 126.0,643.0 126.7,648.1 127.2,653.0 127.8,658.8 128.3,663.3 128.9,666.8 129.5,671.6 130.0,672.1 130.6,674.0 131.3,674.4 132.2,671.5 132.5,671.4 133.4,671.0 134.4,675.5 135.5,678.8 136.7,681.2 137.1,681.9 137.8,683.7 138.6,683.8 138.9,683.8 139.4,683.8 140.1,683.8 141.2,683.8 142.3,683.8 143.4,683.8 144.5,683.8 145.6,683.8 146.8,683.8 147.9,683.8 149.0,683.8 150.1,683.8 151.2,683.8 152.3,683.8 153.4,683.8 154.6,683.8 155.7,683.8 156.8,683.8 157.8,683.8 159.0,683.1 160.1,682.7 161.4,681.8 162.4,680.8 163.5,681.8 164.6,679.1 165.0,679.5 165.7,677.9 166.8,678.1 168.0,677.6 168.6,677.5 169.1,676.4 170.2,677.6 171.3,678.2 172.2,678.2 172.4,678.7 173.5,677.3 174.7,676.7 175.8,676.3 176.9,676.1 178.0,676.4 179.1,675.4 179.4,674.7 180.2,673.5 181.3,673.4 182.5,673.7 183.6,671.3 184.2,672.3 184.7,673.1 185.8,673.2 186.9,674.1 187.8,673.9 188.0,674.3 189.2,674.6 190.3,674.2 191.4,675.1 192.5,675.0 193.6,674.2 194.7,673.6 195.9,672.9 196.2,673.4 197.0,673.9 198.1,674.2 199.2,674.6 200.3,675.7 201.0,675.1 201.4,675.4 202.6,675.5 203.7,676.0 204.8,675.9 205.8,677.5 207.0,677.8 208.1,677.7 209.2,678.6 210.4,680.1 210.6,679.0 211.5,677.8 212.6,679.9 213.7,679.8 214.8,679.5 215.4,680.2 215.9,680.4 217.1,681.5 218.2,680.6 219.3,681.7 220.2,681.8 220.4,681.4 221.5,681.4 222.6,680.8 223.8,681.5 225.0,680.2 226.0,679.2 227.1,678.8 228.2,678.9 229.3,677.3 229.8,677.5 230.5,679.3 231.6,680.2 232.7,678.1 233.8,677.0 234.6,678.2 234.9,677.8 236.0,677.5 237.2,677.6 238.2,676.8 239.4,676.0 240.5,674.7 241.6,674.8 242.3,674.4 242.7,675.0 243.8,674.7 245.0,675.7 246.1,674.7 246.6,676.3 247.2,676.6 248.3,676.7 249.4,677.2 250.5,677.7 251.4,677.5 251.7,676.9 252.8,677.6 253.9,676.4 255.0,676.4 256.2,676.8 257.2,677.6 258.4,677.8 259.5,677.3 260.6,678.0 261.0,677.5 261.7,677.3 262.8,678.0 263.9,679.4 264.6,679.0 265.1,678.1 266.2,680.5 267.3,681.3 268.4,680.8 269.4,681.1 270.6,681.0 271.7,680.4 273.0,679.8 274.0,679.6 275.1,679.4 276.2,679.3 277.3,680.2 277.8,678.6 278.4,677.9 279.6,678.1 280.7,677.7 281.8,677.9 282.6,677.8 282.9,677.8 284.0,678.3 285.1,677.2 286.3,677.9 287.4,677.8 288.5,677.1 289.6,677.6 290.7,678.1 291.0,676.3 291.8,675.6 292.9,675.5 294.1,675.8 294.1,679.1 292.9,678.4 291.8,678.7 291.0,679.3 290.7,680.6 289.6,680.3 288.5,679.6 287.4,680.2 286.3,680.1 285.1,679.7 284.0,680.8 282.9,680.1 282.6,680.2 281.8,680.6 280.7,680.3 279.6,680.2 278.4,680.5 277.8,680.9 277.3,682.8 276.2,681.6 275.1,682.0 274.0,681.9 273.0,682.1 271.7,682.8 270.6,683.1 269.4,682.7 268.4,682.7 267.3,683.3 266.2,682.3 265.1,680.5 264.6,681.4 263.9,682.0 262.8,680.8 261.7,679.9 261.0,680.5 260.6,681.0 259.5,680.5 258.4,680.7 257.2,680.4 256.2,679.8 255.0,679.6 253.9,679.7 252.8,680.2 251.7,679.8 251.4,680.5 250.5,681.0 249.4,679.9 248.3,679.4 247.2,679.9 246.6,679.3 246.1,678.0 245.0,678.5 243.8,677.4 242.7,677.9 242.3,677.3 241.6,677.9 240.5,677.3 239.4,678.9 238.2,679.8 237.2,680.5 236.0,680.3 234.9,680.8 234.6,681.2 233.8,679.6 232.7,680.8 231.6,683.3 230.5,682.1 229.8,680.5 229.3,680.0 228.2,681.3 227.1,681.7 226.0,681.4 225.0,682.6 223.8,683.4 222.6,682.9 221.5,683.3 220.4,683.1 220.2,683.4 219.3,683.3 218.2,682.2 217.1,683.4 215.9,682.8 215.4,682.6 214.8,681.9 213.7,682.0 212.6,682.1 211.5,680.3 210.6,681.4 210.4,682.5 209.2,681.1 208.1,680.4 207.0,680.6 205.8,680.5 204.8,678.9 203.7,679.4 202.6,678.3 201.4,677.9 201.0,678.1 200.3,679.0 199.2,677.7 198.1,677.1 197.0,677.3 196.2,676.4 195.9,675.7 194.7,676.7 193.6,677.4 192.5,678.2 191.4,678.1 190.3,677.6 189.2,677.4 188.0,677.0 187.8,676.9 186.9,677.2 185.8,676.6 184.7,676.3 184.2,676.1 183.6,674.8 182.5,676.8 181.3,676.7 180.2,677.0 179.4,677.6 179.1,677.9 178.0,679.3 176.9,678.7 175.8,679.3 174.7,679.6 173.5,680.1 172.4,682.0 172.2,681.2 171.3,681.1 170.2,680.6 169.1,679.8 168.6,680.5 168.0,680.4 166.8,681.2 165.7,680.6 165.0,681.8 164.6,681.6 163.5,683.8 162.4,682.9 161.4,683.4 160.1,683.8 159.0,683.6 157.8,683.8 156.8,683.8 155.7,683.8 154.6,683.8 153.4,683.8 152.3,683.8 151.2,683.8 150.1,683.8 149.0,683.8 147.9,683.8 146.8,683.8 145.6,683.8 144.5,683.8 143.4,683.8 142.3,683.8 141.2,683.8 140.1,683.8 139.4,683.8 138.9,683.8 138.6,683.8 137.8,683.7 137.1,683.3 136.7,683.0 135.5,681.8 134.4,680.5 133.4,678.2 132.5,678.6 132.2,678.9 131.3,679.3 130.6,679.0 130.0,676.9 129.5,675.3 128.9,671.2 128.3,668.3 127.8,665.4 127.2,660.2 126.7,658.7 126.0,655.0 125.5,652.7 124.9,651.2 124.4,650.1 123.7,648.9 123.3,648.5 122.6,647.8 122.2,648.3 121.4,647.0 121.1,646.3 120.3,646.2 120.0,646.8 119.1,647.0 118.9,648.4 118.1,652.7 117.7,657.1 117.2,661.8 116.6,670.8 116.1,678.7 115.5,682.0 114.9,683.7 114.4,683.7 113.3,683.7 112.2,683.7 111.0,683.7 109.9,683.7 108.8,683.7"/>
<polyline fill="none" stroke="#1a1a1a" stroke-width="1.25" stroke-linejoin="round" points="108.8,683.7 109.9,683.7 111.0,683.7 112.2,683.7 113.3,683.7 114.4,683.7 114.9,683.7 115.5,681.3 116.1,677.2 116.6,668.3 117.2,658.2 117.7,651.7 118.1,646.7 118.9,642.4 119.1,641.0 120.0,640.4 120.3,640.2 121.1,640.8 121.4,641.0 122.2,641.5 122.6,641.8 123.3,642.5 123.7,642.9 124.4,644.3 124.9,645.2 125.5,647.5 126.0,649.0 126.7,653.4 127.2,656.6 127.8,662.1 128.3,665.8 128.9,669.0 129.5,673.4 130.0,674.5 130.6,676.5 131.3,676.9 132.2,675.2 132.5,675.0 133.4,674.6 134.4,678.0 135.5,680.3 136.7,682.1 137.1,682.6 137.8,683.7 138.6,683.8 138.9,683.8 139.4,683.8 140.1,683.8 141.2,683.8 142.3,683.8 143.4,683.8 144.5,683.8 145.6,683.8 146.8,683.8 147.9,683.8 149.0,683.8 150.1,683.8 151.2,683.8 152.3,683.8 153.4,683.8 154.6,683.8 155.7,683.8 156.8,683.8 157.8,683.8 159.0,683.4 160.1,683.3 161.4,682.6 162.4,681.8 163.5,682.9 164.6,680.3 165.0,680.7 165.7,679.2 166.8,679.7 168.0,679.0 168.6,679.0 169.1,678.1 170.2,679.1 171.3,679.6 172.2,679.7 172.4,680.3 173.5,678.7 174.7,678.2 175.8,677.8 176.9,677.4 178.0,677.9 179.1,676.7 179.4,676.1 180.2,675.3 181.3,675.0 182.5,675.3 183.6,673.1 184.2,674.2 184.7,674.7 185.8,674.9 186.9,675.6 187.8,675.4 188.0,675.6 189.2,676.0 190.3,675.9 191.4,676.6 192.5,676.6 193.6,675.8 194.7,675.2 195.9,674.3 196.2,674.9 197.0,675.6 198.1,675.7 199.2,676.1 200.3,677.4 201.0,676.6 201.4,676.6 202.6,676.9 203.7,677.7 204.8,677.4 205.8,679.0 207.0,679.2 208.1,679.0 209.2,679.8 210.4,681.3 210.6,680.2 211.5,679.1 212.6,681.0 213.7,680.9 214.8,680.7 215.4,681.4 215.9,681.6 217.1,682.5 218.2,681.4 219.3,682.5 220.2,682.6 220.4,682.2 221.5,682.3 222.6,681.8 223.8,682.5 225.0,681.4 226.0,680.3 227.1,680.3 228.2,680.1 229.3,678.6 229.8,679.0 230.5,680.7 231.6,681.8 232.7,679.5 233.8,678.3 234.6,679.7 234.9,679.3 236.0,678.9 237.2,679.0 238.2,678.3 239.4,677.5 240.5,676.0 241.6,676.3 242.3,675.9 242.7,676.5 243.8,676.1 245.0,677.1 246.1,676.3 246.6,677.8 247.2,678.2 248.3,678.0 249.4,678.6 250.5,679.3 251.4,679.0 251.7,678.3 252.8,678.9 253.9,678.1 255.0,678.0 256.2,678.3 257.2,679.0 258.4,679.2 259.5,678.9 260.6,679.5 261.0,679.0 261.7,678.6 262.8,679.4 263.9,680.7 264.6,680.2 265.1,679.3 266.2,681.4 267.3,682.3 268.4,681.7 269.4,681.9 270.6,682.1 271.7,681.6 273.0,680.9 274.0,680.8 275.1,680.7 276.2,680.4 277.3,681.5 277.8,679.7 278.4,679.2 279.6,679.1 280.7,679.0 281.8,679.3 282.6,679.0 282.9,679.0 284.0,679.5 285.1,678.4 286.3,679.0 287.4,679.0 288.5,678.4 289.6,679.0 290.7,679.4 291.0,677.8 291.8,677.2 292.9,677.0 294.1,677.5"/>
<path d="M108.5,579.8 V683.8 H294.5" fill="none" stroke="#111" stroke-width="1.2"/>
<path d="M108.5,683.8 h2.4 M108.5,631.8 h2.4 M108.5,579.8 h2.4 M108.5,683.8 v-2.4 M170.5,683.8 v-2.4 M232.5,683.8 v-2.4 M294.5,683.8 v-2.4" fill="none" stroke="#111" stroke-width="1.2"/>
<text x="102.9" y="691.1" class="t" text-anchor="end">0</text>
<text x="102.9" y="639.1" class="t" text-anchor="end">200</text>
<text x="102.9" y="587.1" class="t" text-anchor="end">400</text>
<text x="108.5" y="707.2" class="t" text-anchor="middle">0</text>
<text x="170.5" y="707.2" class="t" text-anchor="middle">100</text>
<text x="232.5" y="707.2" class="t" text-anchor="middle">200</text>
<text x="294.5" y="707.2" class="t" text-anchor="middle">300</text>
<polygon fill="#969696" stroke="none" points="357.7,683.8 358.8,683.8 359.9,683.7 361.1,668.2 362.2,646.9 363.4,629.3 364.3,623.1 365.0,633.1 365.5,634.5 366.0,638.4 366.6,640.4 367.2,643.9 367.7,647.1 368.3,651.1 368.8,653.9 369.9,659.8 371.0,665.7 371.4,666.9 372.2,670.8 372.9,674.1 373.3,674.2 374.5,679.0 375.5,682.0 376.3,683.8 376.4,683.8 376.6,683.8 377.5,683.8 377.7,683.8 378.9,683.8 380.0,683.8 381.1,683.8 382.2,683.8 383.3,683.8 384.4,683.8 385.6,683.8 386.7,683.8 387.8,683.8 388.9,683.8 390.0,683.8 391.1,683.8 392.2,683.8 393.4,683.8 394.4,683.8 395.6,681.2 396.8,679.9 397.8,677.3 398.9,675.5 399.2,675.3 400.1,674.3 401.2,672.5 401.6,674.1 402.3,674.9 403.4,674.2 404.5,676.5 405.2,676.3 405.6,676.0 406.8,677.2 407.9,675.4 409.0,677.4 410.0,676.8 411.2,677.6 412.3,677.6 413.5,677.2 414.6,678.5 414.8,677.8 415.7,676.3 416.8,674.9 417.2,673.9 417.9,670.2 419.0,666.2 419.6,663.3 420.1,660.6 421.3,656.8 422.0,653.8 422.4,654.4 423.5,655.7 424.4,657.4 425.7,662.0 426.8,665.7 428.0,668.0 429.1,670.5 430.4,673.9 431.3,674.6 432.4,676.6 433.5,677.9 434.0,679.0 434.7,679.4 435.8,679.6 436.9,679.1 437.6,679.0 438.0,678.2 439.1,677.3 440.2,676.5 440.7,675.8 441.4,676.8 442.5,677.3 443.6,677.8 444.7,677.8 445.8,678.8 446.9,679.9 447.2,679.9 448.1,680.8 449.2,680.6 450.3,682.5 450.8,681.4 451.4,680.7 452.5,681.9 453.6,682.4 454.7,682.8 455.6,682.4 455.9,683.0 457.0,681.3 458.1,679.7 459.2,679.0 460.3,676.1 461.4,674.8 462.6,672.9 462.8,672.7 463.7,673.2 464.8,672.1 465.9,672.5 466.4,671.5 467.0,672.1 468.1,673.2 468.8,673.4 469.3,673.6 470.4,673.8 471.2,672.7 471.5,672.1 472.6,672.0 473.7,671.4 474.3,669.9 474.8,670.4 475.9,672.5 477.2,673.9 478.2,674.2 479.3,674.7 480.4,675.2 480.8,675.1 481.5,675.7 482.6,675.0 483.8,676.1 484.4,676.3 484.9,675.1 486.0,675.3 487.1,675.9 488.0,675.8 488.2,675.6 489.3,675.4 490.5,674.4 491.6,673.9 492.7,673.9 493.8,672.8 494.9,672.6 495.2,672.7 496.0,672.2 497.2,672.3 498.3,671.0 498.8,671.1 499.4,671.8 500.5,672.0 501.6,671.7 502.4,672.7 502.7,672.8 503.9,672.9 505.0,673.7 506.0,675.1 507.2,674.8 508.3,674.4 509.4,676.4 510.5,675.5 510.8,675.1 511.7,675.8 512.8,675.3 513.9,675.8 515.0,676.3 515.6,675.8 516.1,675.6 517.2,675.1 518.4,674.6 519.2,675.1 519.5,676.2 520.6,676.2 521.7,677.2 522.8,677.1 523.9,676.8 525.1,678.6 526.2,678.9 527.3,679.1 527.6,678.6 528.4,679.0 529.5,679.7 530.6,680.0 531.8,680.1 532.4,679.9 532.9,679.3 534.0,681.2 535.1,681.5 536.0,681.3 536.2,680.5 537.3,682.0 538.4,682.5 538.4,683.8 537.3,683.4 536.2,682.1 536.0,682.9 535.1,683.1 534.0,683.0 532.9,680.8 532.4,681.5 531.8,681.8 530.6,681.9 529.5,681.9 528.4,680.9 527.6,680.9 527.3,681.7 526.2,681.6 525.1,680.7 523.9,679.2 522.8,679.5 521.7,679.6 520.6,679.0 519.5,679.4 519.2,678.1 518.4,677.8 517.2,678.0 516.1,678.5 515.6,678.8 515.0,679.1 513.9,678.5 512.8,678.1 511.7,679.0 510.8,678.1 510.5,678.2 509.4,679.0 508.3,677.3 507.2,677.5 506.0,678.1 505.0,676.9 503.9,675.6 502.7,675.5 502.4,675.7 501.6,675.2 500.5,675.6 499.4,676.0 498.8,674.9 498.3,674.1 497.2,675.8 496.0,675.1 495.2,675.7 494.9,676.0 493.8,675.8 492.7,676.6 491.6,676.9 490.5,677.3 489.3,678.3 488.2,678.4 488.0,678.8 487.1,678.8 486.0,678.1 484.9,678.4 484.4,679.3 483.8,678.9 482.6,678.0 481.5,678.5 480.8,678.1 480.4,678.5 479.3,677.8 478.2,676.8 477.2,676.9 475.9,676.2 474.8,674.1 474.3,673.7 473.7,674.9 472.6,675.1 471.5,675.2 471.2,675.7 470.4,676.7 469.3,676.7 468.8,676.4 468.1,675.9 467.0,674.7 466.4,674.5 465.9,675.0 464.8,675.1 463.7,676.2 462.8,675.7 462.6,675.5 461.4,677.2 460.3,678.8 459.2,681.4 458.1,681.9 457.0,682.8 455.9,683.8 455.6,683.7 454.7,683.8 453.6,683.7 452.5,683.3 451.4,681.9 450.8,682.8 450.3,683.7 449.2,682.3 448.1,682.4 447.2,681.5 446.9,681.7 445.8,680.8 444.7,680.1 443.6,680.2 442.5,679.5 441.4,679.5 440.7,678.8 440.2,679.1 439.1,679.5 438.0,680.5 437.6,681.4 436.9,681.5 435.8,682.1 434.7,681.4 434.0,681.4 433.5,680.1 432.4,678.9 431.3,677.6 430.4,676.9 429.1,674.4 428.0,672.4 426.8,670.7 425.7,667.3 424.4,664.6 423.5,663.1 422.4,661.5 422.0,661.0 421.3,663.1 420.1,666.6 419.6,668.3 419.0,670.7 417.9,674.2 417.2,676.9 416.8,678.1 415.7,679.0 414.8,680.2 414.6,680.7 413.5,679.7 412.3,680.1 411.2,680.5 410.0,679.8 409.0,680.4 407.9,678.7 406.8,680.2 405.6,679.2 405.2,679.3 404.5,680.0 403.4,678.4 402.3,679.3 401.6,679.1 401.2,678.0 400.1,679.7 399.2,680.3 398.9,680.8 397.8,681.3 396.8,682.9 395.6,682.3 394.4,683.8 393.4,683.8 392.2,683.8 391.1,683.8 390.0,683.8 388.9,683.8 387.8,683.8 386.7,683.8 385.6,683.8 384.4,683.8 383.3,683.8 382.2,683.8 381.1,683.8 380.0,683.8 378.9,683.8 377.7,683.8 377.5,683.8 376.6,683.8 376.4,683.8 376.3,683.8 375.5,682.4 374.5,680.0 373.3,675.6 372.9,675.8 372.2,672.7 371.4,669.3 371.0,668.0 369.9,662.7 368.8,657.9 368.3,656.1 367.7,653.1 367.2,651.1 366.6,651.3 366.0,650.4 365.5,648.3 365.0,645.1 364.3,635.1 363.4,641.3 362.2,654.2 361.1,671.1 359.9,683.7 358.8,683.8 357.7,683.8"/>
<polyline fill="none" stroke="#1a1a1a" stroke-width="1.25" stroke-linejoin="round" points="357.7,683.8 358.8,683.8 359.9,683.7 361.1,669.6 362.2,650.5 363.4,635.3 364.3,629.1 365.0,639.1 365.5,641.4 366.0,644.4 366.6,645.9 367.2,647.5 367.7,650.1 368.3,653.6 368.8,655.9 369.9,661.2 371.0,666.8 371.4,668.1 372.2,671.8 372.9,675.0 373.3,674.9 374.5,679.5 375.5,682.2 376.3,683.8 376.4,683.8 376.6,683.8 377.5,683.8 377.7,683.8 378.9,683.8 380.0,683.8 381.1,683.8 382.2,683.8 383.3,683.8 384.4,683.8 385.6,683.8 386.7,683.8 387.8,683.8 388.9,683.8 390.0,683.8 391.1,683.8 392.2,683.8 393.4,683.8 394.4,683.8 395.6,681.8 396.8,681.4 397.8,679.3 398.9,678.2 399.2,677.8 400.1,677.0 401.2,675.3 401.6,676.6 402.3,677.1 403.4,676.3 404.5,678.3 405.2,677.8 405.6,677.6 406.8,678.7 407.9,677.1 409.0,678.9 410.0,678.3 411.2,679.0 412.3,678.9 413.5,678.4 414.6,679.6 414.8,679.0 415.7,677.7 416.8,676.5 417.2,675.4 417.9,672.2 419.0,668.5 419.6,665.8 420.1,663.6 421.3,659.9 422.0,657.4 422.4,657.9 423.5,659.4 424.4,661.0 425.7,664.7 426.8,668.2 428.0,670.2 429.1,672.4 430.4,675.4 431.3,676.1 432.4,677.8 433.5,679.0 434.0,680.2 434.7,680.4 435.8,680.9 436.9,680.3 437.6,680.2 438.0,679.3 439.1,678.4 440.2,677.8 440.7,677.3 441.4,678.1 442.5,678.4 443.6,679.0 444.7,678.9 445.8,679.8 446.9,680.8 447.2,680.7 448.1,681.6 449.2,681.5 450.3,683.1 450.8,682.1 451.4,681.3 452.5,682.6 453.6,683.0 454.7,683.4 455.6,683.1 455.9,683.8 457.0,682.0 458.1,680.8 459.2,680.2 460.3,677.4 461.4,676.0 462.6,674.2 462.8,674.2 463.7,674.7 464.8,673.6 465.9,673.8 466.4,673.0 467.0,673.4 468.1,674.6 468.8,674.9 469.3,675.2 470.4,675.2 471.2,674.2 471.5,673.6 472.6,673.6 473.7,673.1 474.3,671.8 474.8,672.3 475.9,674.3 477.2,675.4 478.2,675.5 479.3,676.3 480.4,676.8 480.8,676.6 481.5,677.1 482.6,676.5 483.8,677.5 484.4,677.8 484.9,676.8 486.0,676.7 487.1,677.4 488.0,677.3 488.2,677.0 489.3,676.8 490.5,675.8 491.6,675.4 492.7,675.2 493.8,674.3 494.9,674.3 495.2,674.2 496.0,673.6 497.2,674.1 498.3,672.5 498.8,673.0 499.4,673.9 500.5,673.8 501.6,673.5 502.4,674.2 502.7,674.2 503.9,674.2 505.0,675.3 506.0,676.6 507.2,676.2 508.3,675.8 509.4,677.7 510.5,676.8 510.8,676.6 511.7,677.4 512.8,676.7 513.9,677.2 515.0,677.7 515.6,677.3 516.1,677.1 517.2,676.6 518.4,676.2 519.2,676.6 519.5,677.8 520.6,677.6 521.7,678.4 522.8,678.3 523.9,678.0 525.1,679.7 526.2,680.3 527.3,680.4 527.6,679.7 528.4,680.0 529.5,680.8 530.6,681.0 531.8,680.9 532.4,680.7 532.9,680.0 534.0,682.1 535.1,682.3 536.0,682.1 536.2,681.3 537.3,682.7 538.4,683.3"/>
<path d="M353.5,579.8 V683.8 H539.5" fill="none" stroke="#111" stroke-width="1.2"/>
<path d="M353.5,683.8 h2.4 M353.5,631.8 h2.4 M353.5,579.8 h2.4 M353.5,683.8 v-2.4 M415.5,683.8 v-2.4 M477.5,683.8 v-2.4 M539.5,683.8 v-2.4" fill="none" stroke="#111" stroke-width="1.2"/>
<text x="347.9" y="691.1" class="t" text-anchor="end">0</text>
<text x="347.9" y="639.1" class="t" text-anchor="end">200</text>
<text x="347.9" y="587.1" class="t" text-anchor="end">400</text>
<text x="353.5" y="707.2" class="t" text-anchor="middle">0</text>
<text x="415.5" y="707.2" class="t" text-anchor="middle">100</text>
<text x="477.5" y="707.2" class="t" text-anchor="middle">200</text>
<text x="539.5" y="707.2" class="t" text-anchor="middle">300</text>
<polygon fill="#969696" stroke="none" points="600.6,683.8 601.7,683.8 602.8,683.8 604.0,683.8 605.1,683.8 605.7,683.8 606.2,680.0 606.6,676.9 607.3,670.9 608.0,664.0 608.4,661.4 609.4,654.6 610.8,653.2 611.8,652.1 612.2,651.4 612.9,643.1 613.1,639.7 614.1,627.4 615.1,614.2 615.5,610.4 616.2,616.7 616.6,620.0 617.3,628.3 618.1,636.9 618.5,641.6 619.2,651.9 619.6,657.6 620.1,667.1 620.7,671.3 621.5,676.7 621.8,678.1 622.9,681.8 624.0,683.0 624.8,683.8 625.2,683.8 626.2,683.8 626.6,683.8 627.4,683.8 628.5,683.8 629.6,683.8 630.7,683.8 631.9,683.8 633.0,683.8 634.1,683.8 635.2,683.8 636.3,683.8 637.4,683.8 638.6,683.8 639.7,683.8 640.8,683.8 641.9,683.8 643.0,683.8 644.1,683.8 645.2,683.8 646.4,683.8 647.5,683.8 648.6,683.8 649.7,683.8 650.8,683.8 651.9,683.8 652.6,683.8 653.1,683.5 654.2,682.0 655.0,682.1 655.3,681.8 656.4,679.3 657.5,677.2 657.9,677.8 658.6,678.9 659.8,678.5 661.0,679.0 662.0,678.6 663.1,678.1 664.2,675.9 664.6,676.3 665.3,674.1 666.5,673.1 667.6,669.8 668.2,669.3 668.7,667.9 669.8,665.0 670.9,661.7 671.8,659.8 672.0,660.4 673.1,663.0 674.3,664.7 675.4,666.9 676.5,668.0 677.6,672.1 678.7,673.9 679.0,673.5 679.8,674.8 681.0,676.4 682.1,678.4 682.6,679.0 683.2,679.2 684.3,679.9 685.4,679.5 686.2,680.6 686.5,680.2 687.7,680.7 688.8,680.4 689.8,679.9 691.0,679.2 692.1,679.1 693.4,679.4 694.4,679.4 695.5,677.5 696.6,677.5 697.7,676.7 698.2,676.2 698.8,675.6 699.9,677.6 701.0,679.2 701.8,679.4 702.2,679.8 703.3,679.5 704.4,680.8 705.4,680.6 706.6,680.8 707.7,680.7 708.9,680.2 710.0,679.9 710.2,680.1 711.1,679.9 712.2,681.0 713.3,681.3 714.4,680.0 715.0,680.6 715.6,680.3 716.7,678.5 717.8,677.0 718.6,676.6 718.9,676.8 720.0,673.3 721.1,671.7 722.3,668.4 723.4,665.9 724.5,666.9 725.6,668.7 726.7,670.2 727.0,671.5 727.8,672.6 728.9,674.2 730.1,675.6 730.6,675.8 731.2,675.8 732.3,676.2 733.4,678.0 734.2,677.8 734.5,677.9 735.6,678.4 736.8,679.2 737.9,677.8 739.0,678.6 740.1,679.3 741.2,677.5 742.3,677.7 743.5,677.8 743.8,677.8 744.6,677.1 745.7,677.8 746.8,676.2 747.9,677.3 748.6,676.3 749.0,676.3 750.2,676.5 751.3,677.1 752.4,677.7 753.4,678.6 754.6,679.4 755.7,679.5 756.8,680.5 758.0,679.6 758.2,680.1 759.1,680.2 760.2,680.2 761.3,683.0 762.4,681.5 763.0,681.9 763.5,681.3 764.7,681.8 765.8,682.4 766.9,681.8 767.8,681.4 769.1,681.5 770.2,681.8 771.4,681.7 772.6,681.2 773.6,681.8 774.7,681.9 775.8,680.2 776.9,681.7 777.4,681.9 778.1,681.8 779.2,681.3 780.3,680.4 781.0,680.6 781.4,680.3 782.5,679.4 783.6,681.0 783.6,682.5 782.5,680.8 781.4,681.9 781.0,682.2 780.3,682.1 779.2,682.7 778.1,683.3 777.4,683.3 776.9,683.1 775.8,681.5 774.7,683.3 773.6,683.1 772.6,682.5 771.4,682.9 770.2,683.3 769.1,682.8 767.8,682.8 766.9,683.2 765.8,683.7 764.7,683.0 763.5,682.7 763.0,683.3 762.4,682.8 761.3,683.8 760.2,681.8 759.1,682.0 758.2,681.7 758.0,681.1 756.8,682.6 755.7,681.4 754.6,681.9 753.4,680.9 752.4,679.8 751.3,679.8 750.2,679.5 749.0,678.9 748.6,679.3 747.9,680.0 746.8,679.2 745.7,680.1 744.6,679.3 743.8,680.2 743.5,680.0 742.3,680.1 741.2,679.9 740.1,681.5 739.0,680.9 737.9,680.4 736.8,681.3 735.6,680.9 734.5,680.0 734.2,680.2 733.4,680.2 732.3,679.1 731.2,678.3 730.6,678.8 730.1,678.9 728.9,677.0 727.8,675.3 727.0,674.5 726.7,673.6 725.6,672.4 724.5,670.7 723.4,669.6 722.3,672.2 721.1,674.8 720.0,676.1 718.9,678.9 718.6,679.0 717.8,679.3 716.7,680.3 715.6,682.1 715.0,682.2 714.4,681.5 713.3,682.8 712.2,682.6 711.1,681.7 710.2,681.7 710.0,681.8 708.9,682.0 707.7,682.4 706.6,682.6 705.4,682.2 704.4,682.3 703.3,681.1 702.2,681.4 701.8,681.0 701.0,680.7 699.9,679.9 698.8,677.8 698.2,678.5 697.7,678.9 696.6,679.5 695.5,679.7 694.4,681.0 693.4,681.0 692.1,680.9 691.0,680.7 689.8,681.5 688.8,682.2 687.7,682.1 686.5,682.1 686.2,682.2 685.4,681.5 684.3,682.1 683.2,681.5 682.6,681.4 682.1,680.8 681.0,679.3 679.8,678.6 679.0,677.3 678.7,677.8 677.6,675.7 676.5,673.3 675.4,671.9 674.3,670.5 673.1,668.9 672.0,666.8 671.8,667.0 670.9,668.9 669.8,671.0 668.7,673.8 668.2,674.3 667.6,674.8 666.5,676.5 665.3,677.7 664.6,679.3 664.2,678.5 663.1,680.6 662.0,681.3 661.0,681.4 659.8,680.6 658.6,681.4 657.9,680.2 657.5,679.6 656.4,681.0 655.3,683.0 655.0,683.1 654.2,682.5 653.1,683.7 652.6,683.8 651.9,683.8 650.8,683.8 649.7,683.8 648.6,683.8 647.5,683.8 646.4,683.8 645.2,683.8 644.1,683.8 643.0,683.8 641.9,683.8 640.8,683.8 639.7,683.8 638.6,683.8 637.4,683.8 636.3,683.8 635.2,683.8 634.1,683.8 633.0,683.8 631.9,683.8 630.7,683.8 629.6,683.8 628.5,683.8 627.4,683.8 626.6,683.8 626.2,683.8 625.2,683.8 624.8,683.8 624.0,683.3 622.9,682.6 621.8,679.4 621.5,678.4 620.7,673.1 620.1,669.4 619.6,660.1 619.2,654.9 618.5,646.5 618.1,641.9 617.3,634.7 616.6,627.2 616.2,624.9 615.5,620.1 615.1,624.6 614.1,634.7 613.1,644.7 612.9,647.5 612.2,656.3 611.8,656.8 610.8,658.2 609.4,659.6 608.4,665.2 608.0,666.9 607.3,673.0 606.6,678.2 606.2,680.8 605.7,683.8 605.1,683.8 604.0,683.8 602.8,683.8 601.7,683.8 600.6,683.8"/>
<polyline fill="none" stroke="#1a1a1a" stroke-width="1.25" stroke-linejoin="round" points="600.6,683.8 601.7,683.8 602.8,683.8 604.0,683.8 605.1,683.8 605.7,683.8 606.2,680.4 606.6,677.6 607.3,672.0 608.0,665.5 608.4,663.3 609.4,657.1 610.8,655.7 611.8,654.4 612.2,653.8 612.9,645.3 613.1,642.2 614.1,631.0 615.1,619.4 615.5,615.2 616.2,620.8 616.6,623.6 617.3,631.5 618.1,639.4 618.5,644.1 619.2,653.4 619.6,658.9 620.1,668.3 620.7,672.2 621.5,677.6 621.8,678.7 622.9,682.2 624.0,683.2 624.8,683.8 625.2,683.8 626.2,683.8 626.6,683.8 627.4,683.8 628.5,683.8 629.6,683.8 630.7,683.8 631.9,683.8 633.0,683.8 634.1,683.8 635.2,683.8 636.3,683.8 637.4,683.8 638.6,683.8 639.7,683.8 640.8,683.8 641.9,683.8 643.0,683.8 644.1,683.8 645.2,683.8 646.4,683.8 647.5,683.8 648.6,683.8 649.7,683.8 650.8,683.8 651.9,683.8 652.6,683.8 653.1,683.6 654.2,682.2 655.0,682.6 655.3,682.4 656.4,680.2 657.5,678.4 657.9,679.0 658.6,680.2 659.8,679.5 661.0,680.2 662.0,679.9 663.1,679.3 664.2,677.2 664.6,677.8 665.3,675.9 666.5,674.8 667.6,672.3 668.2,671.8 668.7,670.8 669.8,668.0 670.9,665.3 671.8,663.4 672.0,663.6 673.1,665.9 674.3,667.6 675.4,669.4 676.5,670.7 677.6,673.9 678.7,675.9 679.0,675.4 679.8,676.7 681.0,677.9 682.1,679.6 682.6,680.2 683.2,680.4 684.3,681.0 685.4,680.5 686.2,681.4 686.5,681.2 687.7,681.4 688.8,681.3 689.8,680.7 691.0,679.9 692.1,680.0 693.4,680.2 694.4,680.2 695.5,678.6 696.6,678.5 697.7,677.8 698.2,677.3 698.8,676.7 699.9,678.8 701.0,680.0 701.8,680.2 702.2,680.6 703.3,680.3 704.4,681.6 705.4,681.4 706.6,681.7 707.7,681.5 708.9,681.1 710.0,680.9 710.2,680.9 711.1,680.8 712.2,681.8 713.3,682.0 714.4,680.8 715.0,681.4 715.6,681.2 716.7,679.4 717.8,678.1 718.6,677.8 718.9,677.9 720.0,674.7 721.1,673.3 722.3,670.3 723.4,667.7 724.5,668.8 725.6,670.6 726.7,671.9 727.0,673.0 727.8,674.0 728.9,675.6 730.1,677.2 730.6,677.3 731.2,677.1 732.3,677.6 733.4,679.1 734.2,679.0 734.5,679.0 735.6,679.7 736.8,680.3 737.9,679.1 739.0,679.7 740.1,680.4 741.2,678.7 742.3,678.9 743.5,678.9 743.8,679.0 744.6,678.2 745.7,678.9 746.8,677.7 747.9,678.6 748.6,677.8 749.0,677.6 750.2,678.0 751.3,678.5 752.4,678.7 753.4,679.7 754.6,680.6 755.7,680.4 756.8,681.5 758.0,680.3 758.2,680.9 759.1,681.1 760.2,681.0 761.3,683.8 762.4,682.2 763.0,682.6 763.5,682.0 764.7,682.4 765.8,683.0 766.9,682.5 767.8,682.1 769.1,682.2 770.2,682.5 771.4,682.3 772.6,681.9 773.6,682.4 774.7,682.6 775.8,680.8 776.9,682.4 777.4,682.6 778.1,682.6 779.2,682.0 780.3,681.3 781.0,681.4 781.4,681.1 782.5,680.1 783.6,681.7"/>
<path d="M598.5,579.8 V683.8 H784.5" fill="none" stroke="#111" stroke-width="1.2"/>
<path d="M598.5,683.8 h2.4 M598.5,631.8 h2.4 M598.5,579.8 h2.4 M598.5,683.8 v-2.4 M660.5,683.8 v-2.4 M722.5,683.8 v-2.4 M784.5,683.8 v-2.4" fill="none" stroke="#111" stroke-width="1.2"/>
<text x="592.9" y="691.1" class="t" text-anchor="end">0</text>
<text x="592.9" y="639.1" class="t" text-anchor="end">200</text>
<text x="592.9" y="587.1" class="t" text-anchor="end">400</text>
<text x="598.5" y="707.2" class="t" text-anchor="middle">0</text>
<text x="660.5" y="707.2" class="t" text-anchor="middle">100</text>
<text x="722.5" y="707.2" class="t" text-anchor="middle">200</text>
<text x="784.5" y="707.2" class="t" text-anchor="middle">300</text>
<polygon fill="#969696" stroke="none" points="108.7,852.2 109.9,852.2 111.0,852.2 112.1,852.2 113.2,852.2 114.3,852.2 115.1,852.2 115.4,849.6 116.2,842.7 116.6,838.2 117.4,825.1 117.7,822.8 118.5,813.0 118.8,811.0 119.7,806.5 119.9,805.6 120.8,805.8 121.0,805.9 121.7,808.1 122.1,807.8 122.7,806.5 123.3,806.6 123.8,805.4 124.4,805.4 124.9,803.9 125.5,804.1 126.0,805.8 126.6,810.6 127.0,815.0 127.7,823.6 127.9,825.1 128.8,832.6 129.1,835.1 130.0,840.4 130.6,843.0 131.1,843.3 132.1,846.3 133.3,848.5 133.9,849.6 134.4,850.4 135.5,852.2 136.2,852.3 136.6,852.2 137.8,852.3 138.9,852.3 140.0,852.3 141.1,852.3 142.2,852.3 143.3,852.3 144.5,852.3 145.6,852.3 146.7,852.3 147.8,852.3 148.9,852.3 150.0,852.3 151.2,852.3 152.3,852.3 153.4,852.3 154.5,852.3 155.6,852.3 156.7,852.3 157.9,852.3 159.0,852.3 160.2,852.3 161.2,851.3 162.3,849.4 162.6,849.7 163.4,849.3 164.5,847.8 165.0,846.8 165.7,846.1 166.8,844.2 167.9,842.5 169.0,842.1 170.1,841.6 171.0,841.3 171.2,841.8 172.4,840.2 173.5,839.9 174.6,839.0 175.7,838.4 176.8,837.8 177.9,837.8 178.2,837.1 179.1,836.1 180.2,834.6 181.3,833.1 182.4,834.1 183.5,837.3 184.2,837.1 184.6,838.4 185.8,837.8 186.9,839.6 187.8,840.9 189.1,841.3 190.2,842.2 191.4,842.4 192.4,842.7 193.6,841.7 194.7,842.3 195.8,843.1 196.2,842.9 196.9,842.3 198.0,842.8 199.1,843.6 200.3,844.5 201.0,843.6 201.4,844.5 202.5,844.5 203.6,843.2 204.7,843.5 205.8,844.1 207.0,843.5 208.1,843.8 209.2,844.0 210.3,843.1 210.6,843.6 211.4,844.5 212.5,843.9 213.7,844.7 214.8,843.9 215.4,844.8 215.9,844.9 217.0,845.4 218.1,844.6 219.2,843.3 220.2,844.1 221.5,843.5 222.6,844.5 223.7,843.8 224.8,843.7 225.0,842.9 225.9,842.6 227.0,842.4 228.2,841.6 228.6,841.3 229.3,840.1 230.4,839.3 231.5,838.6 232.7,835.9 233.7,836.8 234.9,837.8 235.8,838.9 237.1,840.0 238.2,840.2 239.4,841.7 240.4,843.5 241.6,842.0 242.7,843.5 243.8,844.8 244.2,844.8 244.9,846.2 246.0,845.6 247.1,846.3 248.2,846.8 249.0,846.5 249.4,847.3 250.5,847.0 251.6,847.9 252.7,846.1 253.8,847.5 254.9,847.8 256.1,848.4 257.2,848.3 258.3,849.4 258.6,849.1 259.4,850.3 260.5,849.7 261.6,849.6 262.8,851.4 263.4,850.9 263.9,849.8 265.0,851.1 266.1,850.2 267.2,848.9 268.2,849.2 269.5,849.1 270.6,848.2 271.7,847.7 272.8,847.2 273.0,846.5 273.9,846.0 275.0,845.0 276.1,844.4 277.3,842.9 277.8,843.1 278.4,842.6 279.5,842.7 280.6,843.6 281.7,843.5 282.6,842.6 282.8,841.9 284.0,843.8 285.1,841.7 286.2,841.9 287.4,843.1 288.4,842.9 289.5,843.4 290.7,842.7 291.0,842.6 291.8,843.9 292.9,845.0 294.0,845.0 294.0,847.8 292.9,849.0 291.8,848.0 291.0,847.6 290.7,848.3 289.5,849.0 288.4,848.6 287.4,848.1 286.2,847.1 285.1,847.2 284.0,848.1 282.8,847.3 282.6,847.6 281.7,848.2 280.6,849.0 279.5,847.2 278.4,847.3 277.8,848.1 277.3,848.0 276.1,848.4 275.0,849.2 273.9,849.2 273.0,849.5 272.8,850.4 271.7,850.5 270.6,851.1 269.5,851.8 268.2,851.6 267.2,851.2 266.1,852.3 265.0,852.3 263.9,851.4 263.4,852.3 262.8,852.3 261.6,851.1 260.5,851.0 259.4,851.9 258.6,850.7 258.3,850.9 257.2,850.2 256.1,850.4 254.9,850.2 253.8,849.9 252.7,848.4 251.6,850.3 250.5,849.5 249.4,850.1 249.0,849.5 248.2,849.6 247.1,849.2 246.0,848.7 244.9,849.1 244.2,847.8 243.8,848.1 242.7,846.6 241.6,845.2 240.4,846.3 239.4,844.7 238.2,843.3 237.1,843.6 235.8,842.7 234.9,841.3 233.7,841.8 232.7,840.9 231.5,842.7 230.4,843.5 229.3,843.8 228.6,845.1 228.2,845.0 227.0,845.6 225.9,845.9 225.0,845.9 224.8,846.3 223.7,846.4 222.6,847.5 221.5,846.2 220.2,847.1 219.2,846.2 218.1,847.4 217.0,848.0 215.9,847.7 215.4,847.8 214.8,846.6 213.7,847.6 212.5,847.3 211.4,847.4 210.6,846.6 210.3,845.9 209.2,846.9 208.1,846.3 207.0,846.6 205.8,847.1 204.7,846.8 203.6,846.2 202.5,847.4 201.4,847.8 201.0,846.6 200.3,847.7 199.1,846.2 198.0,845.7 196.9,845.4 196.2,845.9 195.8,845.7 194.7,845.2 193.6,844.9 192.4,846.1 191.4,845.4 190.2,845.2 189.1,845.2 187.8,844.6 186.9,843.9 185.8,842.6 184.6,842.6 184.2,842.1 183.5,843.1 182.4,841.1 181.3,840.3 180.2,840.2 179.1,841.3 178.2,842.1 177.9,843.0 176.8,843.0 175.7,843.8 174.6,844.0 173.5,843.9 172.4,844.0 171.2,845.3 171.0,845.1 170.1,845.0 169.0,846.0 167.9,846.3 166.8,847.8 165.7,848.5 165.0,849.2 164.5,850.0 163.4,850.9 162.6,851.1 162.3,850.5 161.2,851.8 160.2,852.3 159.0,852.3 157.9,852.3 156.7,852.3 155.6,852.3 154.5,852.3 153.4,852.3 152.3,852.3 151.2,852.3 150.0,852.3 148.9,852.3 147.8,852.3 146.7,852.3 145.6,852.3 144.5,852.3 143.3,852.3 142.2,852.3 141.1,852.3 140.0,852.3 138.9,852.3 137.8,852.3 136.6,852.2 136.2,852.3 135.5,852.2 134.4,851.1 133.9,850.7 133.3,849.7 132.1,848.0 131.1,845.3 130.6,845.3 130.0,843.2 129.1,838.1 128.8,836.1 127.9,830.1 127.7,828.4 127.0,822.2 126.6,821.1 126.0,817.8 125.5,817.6 124.9,815.9 124.4,815.9 123.8,817.4 123.3,817.4 122.7,818.5 122.1,819.0 121.7,820.1 121.0,818.9 120.8,817.8 119.9,819.2 119.7,818.5 118.8,822.3 118.5,822.7 117.7,828.6 117.4,830.1 116.6,841.7 116.2,845.6 115.4,850.3 115.1,852.2 114.3,852.2 113.2,852.2 112.1,852.2 111.0,852.2 109.9,852.2 108.7,852.2"/>
<polyline fill="none" stroke="#1a1a1a" stroke-width="1.25" stroke-linejoin="round" points="108.7,852.2 109.9,852.2 111.0,852.2 112.1,852.2 113.2,852.2 114.3,852.2 115.1,852.2 115.4,850.0 116.2,844.1 116.6,840.0 117.4,827.6 117.7,825.7 118.5,817.8 118.8,816.6 119.7,812.5 119.9,812.4 120.8,811.8 121.0,812.4 121.7,814.1 122.1,813.4 122.7,812.5 123.3,812.0 123.8,811.4 124.4,810.7 124.9,809.9 125.5,810.9 126.0,811.8 126.6,815.9 127.0,818.6 127.7,826.0 127.9,827.6 128.8,834.3 129.1,836.6 130.0,841.8 130.6,844.1 131.1,844.3 132.1,847.2 133.3,849.1 133.9,850.1 134.4,850.7 135.5,852.2 136.2,852.3 136.6,852.2 137.8,852.3 138.9,852.3 140.0,852.3 141.1,852.3 142.2,852.3 143.3,852.3 144.5,852.3 145.6,852.3 146.7,852.3 147.8,852.3 148.9,852.3 150.0,852.3 151.2,852.3 152.3,852.3 153.4,852.3 154.5,852.3 155.6,852.3 156.7,852.3 157.9,852.3 159.0,852.3 160.2,852.3 161.2,851.5 162.3,850.0 162.6,850.4 163.4,850.1 164.5,848.9 165.0,848.0 165.7,847.3 166.8,846.0 167.9,844.4 169.0,844.0 170.1,843.3 171.0,843.2 171.2,843.6 172.4,842.1 173.5,841.9 174.6,841.5 175.7,841.1 176.8,840.4 177.9,840.4 178.2,839.6 179.1,838.7 180.2,837.4 181.3,836.7 182.4,837.6 183.5,840.2 184.2,839.6 184.6,840.5 185.8,840.2 186.9,841.8 187.8,842.7 189.1,843.2 190.2,843.7 191.4,843.9 192.4,844.4 193.6,843.3 194.7,843.7 195.8,844.4 196.2,844.4 196.9,843.9 198.0,844.3 199.1,844.9 200.3,846.1 201.0,845.1 201.4,846.1 202.5,845.9 203.6,844.7 204.7,845.1 205.8,845.6 207.0,845.1 208.1,845.0 209.2,845.4 210.3,844.5 210.6,845.1 211.4,845.9 212.5,845.6 213.7,846.2 214.8,845.2 215.4,846.3 215.9,846.3 217.0,846.7 218.1,846.0 219.2,844.7 220.2,845.6 221.5,844.9 222.6,846.0 223.7,845.1 224.8,845.0 225.0,844.4 225.9,844.2 227.0,844.0 228.2,843.3 228.6,843.2 229.3,842.0 230.4,841.4 231.5,840.6 232.7,838.4 233.7,839.3 234.9,839.6 235.8,840.8 237.1,841.8 238.2,841.7 239.4,843.2 240.4,844.9 241.6,843.6 242.7,845.0 243.8,846.4 244.2,846.3 244.9,847.7 246.0,847.2 247.1,847.7 248.2,848.2 249.0,848.0 249.4,848.7 250.5,848.3 251.6,849.1 252.7,847.3 253.8,848.7 254.9,849.0 256.1,849.4 257.2,849.2 258.3,850.2 258.6,849.9 259.4,851.1 260.5,850.3 261.6,850.3 262.8,852.1 263.4,851.6 263.9,850.6 265.0,851.8 266.1,851.2 267.2,850.1 268.2,850.4 269.5,850.4 270.6,849.6 271.7,849.1 272.8,848.8 273.0,848.0 273.9,847.6 275.0,847.1 276.1,846.4 277.3,845.4 277.8,845.6 278.4,845.0 279.5,845.0 280.6,846.3 281.7,845.9 282.6,845.1 282.8,844.6 284.0,846.0 285.1,844.5 286.2,844.5 287.4,845.6 288.4,845.7 289.5,846.2 290.7,845.5 291.0,845.1 291.8,845.9 292.9,847.0 294.0,846.4"/>
<path d="M108.5,748.3 V852.3 H294.5" fill="none" stroke="#111" stroke-width="1.2"/>
<path d="M108.5,852.3 h2.4 M108.5,800.3 h2.4 M108.5,748.3 h2.4 M108.5,852.3 v-2.4 M170.5,852.3 v-2.4 M232.5,852.3 v-2.4 M294.5,852.3 v-2.4" fill="none" stroke="#111" stroke-width="1.2"/>
<text x="102.9" y="859.6" class="t" text-anchor="end">0</text>
<text x="102.9" y="807.6" class="t" text-anchor="end">200</text>
<text x="102.9" y="755.6" class="t" text-anchor="end">400</text>
<text x="108.5" y="875.7" class="t" text-anchor="middle">0</text>
<text x="170.5" y="875.7" class="t" text-anchor="middle">100</text>
<text x="232.5" y="875.7" class="t" text-anchor="middle">200</text>
<text x="294.5" y="875.7" class="t" text-anchor="middle">300</text>
<polygon fill="#969696" stroke="none" points="357.2,852.3 358.3,852.1 359.6,851.8 360.6,836.7 361.5,823.7 362.8,806.2 363.2,801.1 363.9,798.7 365.1,794.0 366.1,797.6 366.8,799.9 367.3,803.6 368.4,813.5 368.7,816.1 369.5,823.8 370.6,833.6 371.7,840.3 372.8,846.1 374.0,849.2 375.2,852.3 376.2,852.3 377.3,852.3 378.4,852.3 379.5,852.3 380.7,852.3 381.8,852.3 382.9,852.3 384.0,852.3 385.1,852.3 386.2,852.3 387.4,852.3 388.5,852.3 389.6,852.3 390.7,852.3 391.8,852.3 392.9,852.3 394.0,852.3 394.4,852.3 395.2,849.1 396.1,848.0 397.4,844.3 398.0,842.9 398.5,843.0 399.6,842.2 400.7,842.1 401.6,842.9 401.9,842.7 403.0,842.7 404.1,842.3 405.2,842.4 406.3,842.5 407.4,843.3 408.6,843.7 409.7,843.8 410.0,843.4 410.8,842.5 411.9,842.7 413.0,842.6 413.6,842.9 414.1,842.2 415.3,841.6 416.0,840.5 416.4,839.6 417.5,834.5 418.4,829.9 419.7,823.2 420.8,818.4 421.9,820.8 423.2,822.7 424.2,826.6 425.3,829.3 425.6,830.5 426.4,833.1 427.5,837.9 428.0,839.3 428.6,840.4 429.8,841.9 430.9,844.3 431.6,845.6 432.0,845.4 433.1,846.4 434.2,847.5 435.2,847.5 436.5,847.4 437.6,847.9 438.7,847.5 439.8,847.9 440.0,848.0 440.9,849.0 442.0,848.7 443.2,847.7 444.3,848.8 444.8,848.0 445.4,848.2 446.5,847.1 447.6,847.3 448.4,846.5 448.7,846.4 449.8,845.9 451.0,844.0 452.0,843.1 453.2,842.1 454.3,840.5 455.6,838.4 456.5,837.8 457.7,834.0 458.8,832.0 459.2,831.1 459.9,830.0 461.0,828.2 461.6,826.4 462.1,826.8 463.2,827.9 464.4,830.4 465.2,831.1 465.5,831.9 466.6,832.3 467.7,832.9 468.8,833.1 469.9,834.4 471.1,834.5 472.2,835.3 472.4,835.4 473.3,837.2 474.4,837.5 475.5,838.9 476.0,840.1 476.6,841.2 477.7,842.8 478.9,844.6 479.6,845.3 480.0,845.6 481.1,846.5 482.2,847.4 483.2,848.5 484.4,848.3 485.6,849.4 486.7,850.3 487.8,850.7 488.0,850.8 488.9,850.0 490.0,850.0 491.1,849.6 491.6,849.2 492.3,848.2 493.4,846.7 494.5,846.5 495.2,845.3 495.6,844.7 496.7,842.9 497.8,840.9 498.8,839.9 500.1,839.9 501.2,838.0 502.4,836.9 503.4,836.7 504.5,837.9 505.6,839.9 506.0,838.8 506.8,838.4 507.9,838.2 509.0,837.9 509.6,838.1 510.1,838.3 511.2,838.8 512.3,837.6 513.2,838.1 513.5,838.1 514.6,838.0 515.7,837.5 516.8,836.9 517.9,838.5 519.0,840.7 520.2,842.1 520.4,842.3 521.3,843.6 522.4,845.0 523.5,846.6 524.0,847.2 524.6,846.8 525.7,848.4 526.9,848.5 527.6,848.0 528.0,848.0 529.1,847.4 530.2,847.5 531.3,846.2 532.4,846.5 533.5,847.4 534.7,846.6 535.8,847.0 536.0,847.2 536.9,846.7 538.0,845.8 539.1,845.1 539.1,847.9 538.0,848.5 536.9,849.9 536.0,850.2 535.8,849.9 534.7,849.8 533.5,850.4 532.4,849.5 531.3,848.8 530.2,850.3 529.1,849.7 528.0,850.6 527.6,850.4 526.9,850.7 525.7,850.7 524.6,850.0 524.0,850.2 523.5,849.8 522.4,848.2 521.3,847.7 520.4,846.5 520.2,846.7 519.0,845.0 517.9,843.3 516.8,842.3 515.7,842.7 514.6,843.0 513.5,843.3 513.2,843.5 512.3,843.7 511.2,844.5 510.1,844.0 509.6,843.5 509.0,843.3 507.9,844.1 506.8,843.3 506.0,844.2 505.6,845.1 504.5,843.5 503.4,842.4 502.4,842.3 501.2,842.9 500.1,844.1 498.8,844.1 497.8,844.7 496.7,846.8 495.6,847.8 495.2,848.3 494.5,849.4 493.4,849.4 492.3,850.9 491.6,851.6 491.1,851.8 490.0,852.1 488.9,852.1 488.0,852.3 487.8,852.3 486.7,852.2 485.6,851.5 484.4,850.3 483.2,850.8 482.2,850.3 481.1,849.2 480.0,848.4 479.6,848.3 478.9,847.4 477.7,846.6 476.6,845.3 476.0,843.9 475.5,843.3 474.4,841.4 473.3,841.5 472.4,840.4 472.2,840.8 471.1,840.7 469.9,840.4 468.8,840.3 467.7,841.4 466.6,840.0 465.5,840.7 465.2,840.9 464.4,839.4 463.2,839.0 462.1,838.9 461.6,838.4 461.0,839.0 459.9,839.1 459.2,840.9 458.8,841.3 457.7,843.3 456.5,845.6 455.6,845.6 454.3,846.2 453.2,847.3 452.0,848.1 451.0,848.8 449.8,849.4 448.7,849.7 448.4,849.5 447.6,849.9 446.5,850.0 445.4,850.3 444.8,850.4 444.3,850.9 443.2,850.4 442.0,851.2 440.9,851.0 440.0,850.4 439.8,850.4 438.7,849.6 437.6,850.4 436.5,849.6 435.2,849.9 434.2,849.7 433.1,848.8 432.0,847.6 431.6,848.0 430.9,846.6 429.8,844.3 428.6,842.9 428.0,842.3 427.5,840.9 426.4,836.5 425.6,834.3 425.3,833.6 424.2,830.6 423.2,827.7 421.9,825.6 420.8,823.4 419.7,828.2 418.4,834.9 417.5,838.5 416.4,842.5 416.0,843.5 415.3,844.9 414.1,845.5 413.6,845.9 413.0,845.3 411.9,845.7 410.8,845.8 410.0,846.4 409.7,846.4 408.6,846.3 407.4,845.8 406.3,845.7 405.2,845.4 404.1,845.2 403.0,845.8 401.9,845.8 401.6,845.9 400.7,845.3 399.6,845.5 398.5,846.2 398.0,845.9 397.4,847.0 396.1,850.4 395.2,850.2 394.4,852.3 394.0,852.3 392.9,852.3 391.8,852.3 390.7,852.3 389.6,852.3 388.5,852.3 387.4,852.3 386.2,852.3 385.1,852.3 384.0,852.3 382.9,852.3 381.8,852.3 380.7,852.3 379.5,852.3 378.4,852.3 377.3,852.3 376.2,852.3 375.2,852.3 374.0,849.9 372.8,847.5 371.7,842.3 370.6,836.0 369.5,826.7 368.7,819.9 368.4,817.4 367.3,808.5 366.8,804.9 366.1,803.4 365.1,801.2 363.9,803.8 363.2,806.1 362.8,810.6 361.5,826.7 360.6,837.9 359.6,851.8 358.3,852.1 357.2,852.3"/>
<polyline fill="none" stroke="#1a1a1a" stroke-width="1.25" stroke-linejoin="round" points="357.2,852.3 358.3,852.1 359.6,851.8 360.6,837.3 361.5,825.2 362.8,808.4 363.2,803.6 363.9,801.3 365.1,797.6 366.1,800.5 366.8,802.4 367.3,806.0 368.4,815.4 368.7,818.0 369.5,825.2 370.6,834.8 371.7,841.3 372.8,846.8 374.0,849.6 375.2,852.3 376.2,852.3 377.3,852.3 378.4,852.3 379.5,852.3 380.7,852.3 381.8,852.3 382.9,852.3 384.0,852.3 385.1,852.3 386.2,852.3 387.4,852.3 388.5,852.3 389.6,852.3 390.7,852.3 391.8,852.3 392.9,852.3 394.0,852.3 394.4,852.3 395.2,849.6 396.1,849.2 397.4,845.7 398.0,844.4 398.5,844.6 399.6,843.8 400.7,843.7 401.6,844.4 401.9,844.3 403.0,844.2 404.1,843.7 405.2,843.9 406.3,844.1 407.4,844.5 408.6,845.0 409.7,845.1 410.0,844.9 410.8,844.1 411.9,844.2 413.0,843.9 413.6,844.4 414.1,843.9 415.3,843.3 416.0,842.0 416.4,841.0 417.5,836.5 418.4,832.4 419.7,825.7 420.8,820.9 421.9,823.2 423.2,825.2 424.2,828.6 425.3,831.4 425.6,832.4 426.4,834.8 427.5,839.4 428.0,840.8 428.6,841.7 429.8,843.1 430.9,845.4 431.6,846.8 432.0,846.5 433.1,847.6 434.2,848.6 435.2,848.7 436.5,848.5 437.6,849.2 438.7,848.5 439.8,849.1 440.0,849.2 440.9,850.0 442.0,849.9 443.2,849.0 444.3,849.8 444.8,849.2 445.4,849.3 446.5,848.5 447.6,848.6 448.4,848.0 448.7,848.1 449.8,847.7 451.0,846.4 452.0,845.6 453.2,844.7 454.3,843.3 455.6,842.0 456.5,841.7 457.7,838.7 458.8,836.6 459.2,836.0 459.9,834.5 461.0,833.6 461.6,832.4 462.1,832.8 463.2,833.4 464.4,834.9 465.2,836.0 465.5,836.3 466.6,836.1 467.7,837.2 468.8,836.7 469.9,837.4 471.1,837.6 472.2,838.0 472.4,837.9 473.3,839.3 474.4,839.5 475.5,841.1 476.0,842.0 476.6,843.2 477.7,844.7 478.9,846.0 479.6,846.8 480.0,847.0 481.1,847.8 482.2,848.8 483.2,849.7 484.4,849.3 485.6,850.5 486.7,851.3 487.8,851.5 488.0,851.6 488.9,851.0 490.0,851.0 491.1,850.7 491.6,850.4 492.3,849.5 493.4,848.1 494.5,847.9 495.2,846.8 495.6,846.3 496.7,844.8 497.8,842.8 498.8,842.0 500.1,842.0 501.2,840.4 502.4,839.6 503.4,839.6 504.5,840.7 505.6,842.5 506.0,841.5 506.8,840.9 507.9,841.2 509.0,840.6 509.6,840.8 510.1,841.2 511.2,841.7 512.3,840.7 513.2,840.8 513.5,840.7 514.6,840.5 515.7,840.1 516.8,839.6 517.9,840.9 519.0,842.8 520.2,844.4 520.4,844.4 521.3,845.6 522.4,846.6 523.5,848.2 524.0,848.7 524.6,848.4 525.7,849.6 526.9,849.6 527.6,849.2 528.0,849.3 529.1,848.6 530.2,848.9 531.3,847.5 532.4,848.0 533.5,848.9 534.7,848.2 535.8,848.4 536.0,848.7 536.9,848.3 538.0,847.1 539.1,846.5"/>
<path d="M353.5,748.3 V852.3 H539.5" fill="none" stroke="#111" stroke-width="1.2"/>
<path d="M353.5,852.3 h2.4 M353.5,800.3 h2.4 M353.5,748.3 h2.4 M353.5,852.3 v-2.4 M415.5,852.3 v-2.4 M477.5,852.3 v-2.4 M539.5,852.3 v-2.4" fill="none" stroke="#111" stroke-width="1.2"/>
<text x="347.9" y="859.6" class="t" text-anchor="end">0</text>
<text x="347.9" y="807.6" class="t" text-anchor="end">200</text>
<text x="347.9" y="755.6" class="t" text-anchor="end">400</text>
<text x="353.5" y="875.7" class="t" text-anchor="middle">0</text>
<text x="415.5" y="875.7" class="t" text-anchor="middle">100</text>
<text x="477.5" y="875.7" class="t" text-anchor="middle">200</text>
<text x="539.5" y="875.7" class="t" text-anchor="middle">300</text>
<polygon fill="#969696" stroke="none" points="599.3,852.2 600.4,852.2 601.5,852.2 602.7,852.2 603.8,852.2 604.9,852.2 605.3,852.2 606.0,847.3 606.6,840.9 607.1,837.3 607.9,831.0 608.2,829.0 609.2,822.3 610.5,819.7 611.6,815.4 611.8,814.8 612.7,809.1 613.5,797.9 613.8,793.7 614.7,785.0 614.9,785.3 615.7,790.7 616.0,794.3 617.0,803.4 617.2,805.9 617.8,814.7 618.3,820.6 619.1,832.3 619.4,834.6 620.4,843.1 621.6,850.3 622.2,852.2 622.6,852.3 623.4,852.2 623.9,852.2 625.0,852.3 626.1,852.3 627.2,852.3 628.3,852.3 629.4,852.3 630.6,852.3 631.7,852.3 632.8,852.3 633.9,852.3 635.0,852.3 636.1,852.3 637.2,852.3 638.4,852.3 639.5,852.3 640.6,852.3 641.7,852.3 642.8,852.3 643.9,852.3 645.1,852.3 646.2,852.3 647.3,852.3 648.4,852.3 649.5,852.3 650.6,852.3 651.8,852.3 652.1,852.3 652.9,850.4 653.8,846.5 655.1,841.1 656.2,838.3 657.3,839.1 658.6,837.1 659.6,836.0 660.7,836.8 661.8,838.2 662.2,838.3 662.9,838.2 664.0,837.3 664.6,838.4 665.1,835.5 666.3,829.5 667.0,825.1 667.4,822.5 668.5,817.4 669.4,812.0 670.7,815.4 671.8,817.9 673.0,823.8 674.2,830.5 675.2,835.4 676.3,842.0 676.6,842.9 677.4,845.5 678.5,846.0 679.5,848.8 679.7,848.5 680.8,849.6 681.9,850.3 682.6,850.9 683.0,850.9 684.1,850.9 685.2,850.9 686.2,850.9 687.5,849.7 688.6,851.2 689.8,849.6 690.8,849.5 691.9,848.8 693.0,847.5 693.4,848.5 694.2,847.3 695.3,849.2 696.4,847.0 697.5,848.1 698.2,847.5 698.6,846.7 699.7,846.5 700.9,845.9 702.0,845.9 703.0,845.3 704.2,844.6 705.3,844.5 706.4,842.7 706.6,842.5 707.6,842.4 708.7,841.9 709.8,840.8 710.2,840.7 710.9,840.7 712.0,841.1 713.1,843.0 713.8,842.5 714.3,842.1 715.4,841.6 716.5,840.6 717.4,840.5 718.7,839.1 719.8,838.3 721.0,836.4 721.7,835.3 722.1,835.6 723.2,837.0 724.3,838.7 724.6,839.3 725.4,839.7 726.5,841.5 727.6,841.5 728.2,842.9 728.8,844.8 729.9,843.6 731.0,842.9 731.8,844.8 732.1,845.0 733.2,845.2 734.3,845.2 735.5,845.2 736.6,845.6 737.7,846.4 738.8,845.7 739.9,845.2 741.0,846.3 741.4,845.6 742.2,846.1 743.3,843.9 744.4,844.0 745.0,843.4 745.5,842.9 746.6,842.9 747.7,843.0 748.6,842.1 748.9,842.3 750.0,842.1 751.1,842.7 752.2,842.5 753.4,842.5 754.4,843.1 755.5,844.1 756.7,845.3 757.8,844.7 758.2,845.3 758.9,845.6 760.0,845.0 761.1,847.5 762.2,847.0 763.0,848.0 763.4,848.2 764.5,848.7 765.6,847.7 766.7,849.3 767.8,849.1 768.9,848.8 770.1,849.5 771.2,848.9 772.3,849.8 772.6,848.8 773.4,848.7 774.5,849.4 775.6,847.4 776.8,848.3 777.4,848.4 777.9,849.1 779.0,847.9 780.1,847.2 781.0,846.8 781.2,847.2 782.3,847.2 783.4,846.2 783.4,849.2 782.3,849.9 781.2,849.6 781.0,849.2 780.1,849.3 779.0,849.6 777.9,850.7 777.4,850.0 776.8,850.1 775.6,849.3 774.5,851.0 773.4,850.6 772.6,850.5 772.3,851.4 771.2,850.5 770.1,851.1 768.9,850.3 767.8,850.7 766.7,851.2 765.6,849.5 764.5,850.8 763.4,850.2 763.0,850.4 762.2,849.7 761.1,849.8 760.0,847.3 758.9,848.6 758.2,848.3 757.8,847.5 756.7,848.8 755.5,847.2 754.4,847.0 753.4,846.3 752.2,846.3 751.1,846.6 750.0,846.0 748.9,846.1 748.6,845.8 747.7,846.1 746.6,846.4 745.5,846.0 745.0,846.4 744.4,846.8 743.3,846.8 742.2,848.3 741.4,848.0 741.0,848.9 739.9,847.3 738.8,848.2 737.7,848.4 736.6,848.0 735.5,847.7 734.3,847.5 733.2,848.3 732.1,847.5 731.8,847.8 731.0,846.2 729.9,846.7 728.8,847.4 728.2,845.9 727.6,844.6 726.5,844.4 725.4,842.7 724.6,842.3 724.3,842.0 723.2,839.9 722.1,839.7 721.7,839.1 721.0,839.8 719.8,841.4 718.7,842.0 717.4,843.5 716.5,844.0 715.4,844.6 714.3,845.5 713.8,846.3 713.1,847.1 712.0,845.8 710.9,846.1 710.2,845.7 709.8,845.3 708.7,846.6 707.6,846.7 706.6,846.3 706.4,846.2 705.3,847.6 704.2,847.6 703.0,848.3 702.0,848.4 700.9,848.5 699.7,849.3 698.6,848.9 698.2,849.9 697.5,850.6 696.4,849.7 695.3,851.8 694.2,849.5 693.4,850.8 693.0,849.7 691.9,851.0 690.8,851.3 689.8,851.2 688.6,852.3 687.5,851.2 686.2,852.3 685.2,852.3 684.1,852.3 683.0,852.3 682.6,852.3 681.9,851.5 680.8,851.2 679.7,849.9 679.5,850.5 678.5,848.2 677.4,847.9 676.6,845.9 676.3,845.3 675.2,838.4 674.2,834.3 673.0,828.6 671.8,822.9 670.7,821.0 669.4,819.2 668.5,823.1 667.4,828.5 667.0,830.1 666.3,835.6 665.1,841.2 664.6,845.6 664.0,846.2 662.9,846.9 662.2,848.1 661.8,846.9 660.7,847.9 659.6,847.0 658.6,846.9 657.3,847.5 656.2,848.1 655.1,848.2 653.8,849.5 652.9,851.7 652.1,852.3 651.8,852.3 650.6,852.3 649.5,852.3 648.4,852.3 647.3,852.3 646.2,852.3 645.1,852.3 643.9,852.3 642.8,852.3 641.7,852.3 640.6,852.3 639.5,852.3 638.4,852.3 637.2,852.3 636.1,852.3 635.0,852.3 633.9,852.3 632.8,852.3 631.7,852.3 630.6,852.3 629.4,852.3 628.3,852.3 627.2,852.3 626.1,852.3 625.0,852.3 623.9,852.2 623.4,852.2 622.6,852.3 622.2,852.2 621.6,850.7 620.4,844.5 619.4,836.8 619.1,834.6 618.3,823.3 617.8,817.7 617.2,810.2 617.0,808.4 616.0,802.6 615.7,800.4 614.9,799.0 614.7,797.0 613.8,803.8 613.5,805.2 612.7,816.4 611.8,824.5 611.6,826.2 610.5,831.7 609.2,834.3 608.2,836.2 607.9,835.9 607.1,840.3 606.6,843.2 606.0,848.4 605.3,852.2 604.9,852.2 603.8,852.2 602.7,852.2 601.5,852.2 600.4,852.2 599.3,852.2"/>
<polyline fill="none" stroke="#1a1a1a" stroke-width="1.25" stroke-linejoin="round" points="599.3,852.2 600.4,852.2 601.5,852.2 602.7,852.2 603.8,852.2 604.9,852.2 605.3,852.2 606.0,847.8 606.6,842.1 607.1,838.8 607.9,833.4 608.2,832.6 609.2,828.3 610.5,825.7 611.6,820.8 611.8,819.6 612.7,812.8 613.5,801.5 613.8,798.8 614.7,791.0 614.9,792.2 615.7,795.5 616.0,798.5 617.0,805.9 617.2,808.1 617.8,816.2 618.3,821.9 619.1,833.4 619.4,835.7 620.4,843.8 621.6,850.5 622.2,852.2 622.6,852.3 623.4,852.2 623.9,852.2 625.0,852.3 626.1,852.3 627.2,852.3 628.3,852.3 629.4,852.3 630.6,852.3 631.7,852.3 632.8,852.3 633.9,852.3 635.0,852.3 636.1,852.3 637.2,852.3 638.4,852.3 639.5,852.3 640.6,852.3 641.7,852.3 642.8,852.3 643.9,852.3 645.1,852.3 646.2,852.3 647.3,852.3 648.4,852.3 649.5,852.3 650.6,852.3 651.8,852.3 652.1,852.3 652.9,851.0 653.8,848.0 655.1,844.6 656.2,843.2 657.3,843.3 658.6,842.0 659.6,841.5 660.7,842.4 661.8,842.5 662.2,843.2 662.9,842.5 664.0,841.7 664.6,842.0 665.1,838.3 666.3,832.5 667.0,827.6 667.4,825.5 668.5,820.2 669.4,815.6 670.7,818.2 671.8,820.4 673.0,826.2 674.2,832.4 675.2,836.9 676.3,843.6 676.6,844.4 677.4,846.7 678.5,847.1 679.5,849.7 679.7,849.2 680.8,850.4 681.9,850.9 682.6,851.6 683.0,851.6 684.1,851.6 685.2,851.6 686.2,851.6 687.5,850.4 688.6,851.9 689.8,850.4 690.8,850.4 691.9,849.9 693.0,848.6 693.4,849.7 694.2,848.4 695.3,850.5 696.4,848.3 697.5,849.4 698.2,848.7 698.6,847.8 699.7,847.9 700.9,847.2 702.0,847.1 703.0,846.8 704.2,846.1 705.3,846.1 706.4,844.4 706.6,844.4 707.6,844.6 708.7,844.2 709.8,843.1 710.2,843.2 710.9,843.4 712.0,843.4 713.1,845.1 713.8,844.4 714.3,843.8 715.4,843.1 716.5,842.3 717.4,842.0 718.7,840.6 719.8,839.9 721.0,838.1 721.7,837.2 722.1,837.7 723.2,838.4 724.3,840.4 724.6,840.8 725.4,841.2 726.5,843.0 727.6,843.1 728.2,844.4 728.8,846.1 729.9,845.2 731.0,844.6 731.8,846.3 732.1,846.3 733.2,846.8 734.3,846.4 735.5,846.4 736.6,846.8 737.7,847.4 738.8,847.0 739.9,846.3 741.0,847.6 741.4,846.8 742.2,847.2 743.3,845.3 744.4,845.4 745.0,844.9 745.5,844.5 746.6,844.6 747.7,844.6 748.6,843.9 748.9,844.2 750.0,844.0 751.1,844.7 752.2,844.4 753.4,844.4 754.4,845.0 755.5,845.6 756.7,847.1 757.8,846.1 758.2,846.8 758.9,847.1 760.0,846.1 761.1,848.7 762.2,848.3 763.0,849.2 763.4,849.2 764.5,849.7 765.6,848.6 766.7,850.3 767.8,849.9 768.9,849.5 770.1,850.3 771.2,849.7 772.3,850.6 772.6,849.7 773.4,849.6 774.5,850.2 775.6,848.4 776.8,849.2 777.4,849.2 777.9,849.9 779.0,848.7 780.1,848.2 781.0,848.0 781.2,848.4 782.3,848.5 783.4,847.7"/>
<path d="M598.5,748.3 V852.3 H784.5" fill="none" stroke="#111" stroke-width="1.2"/>
<path d="M598.5,852.3 h2.4 M598.5,800.3 h2.4 M598.5,748.3 h2.4 M598.5,852.3 v-2.4 M660.5,852.3 v-2.4 M722.5,852.3 v-2.4 M784.5,852.3 v-2.4" fill="none" stroke="#111" stroke-width="1.2"/>
<text x="592.9" y="859.6" class="t" text-anchor="end">0</text>
<text x="592.9" y="807.6" class="t" text-anchor="end">200</text>
<text x="592.9" y="755.6" class="t" text-anchor="end">400</text>
<text x="598.5" y="875.7" class="t" text-anchor="middle">0</text>
<text x="660.5" y="875.7" class="t" text-anchor="middle">100</text>
<text x="722.5" y="875.7" class="t" text-anchor="middle">200</text>
<text x="784.5" y="875.7" class="t" text-anchor="middle">300</text>
<text transform="translate(35.75,463.3) rotate(-90)" class="t" text-anchor="middle">Firing rate</text>
<text transform="translate(57.6,462.8) rotate(-90)" class="t" text-anchor="middle">(Hz)</text>
<text x="447.1" y="900.5" class="t" text-anchor="middle" style="font-size:19.7px">Time (ms)</text>
</svg>
</body></html>
